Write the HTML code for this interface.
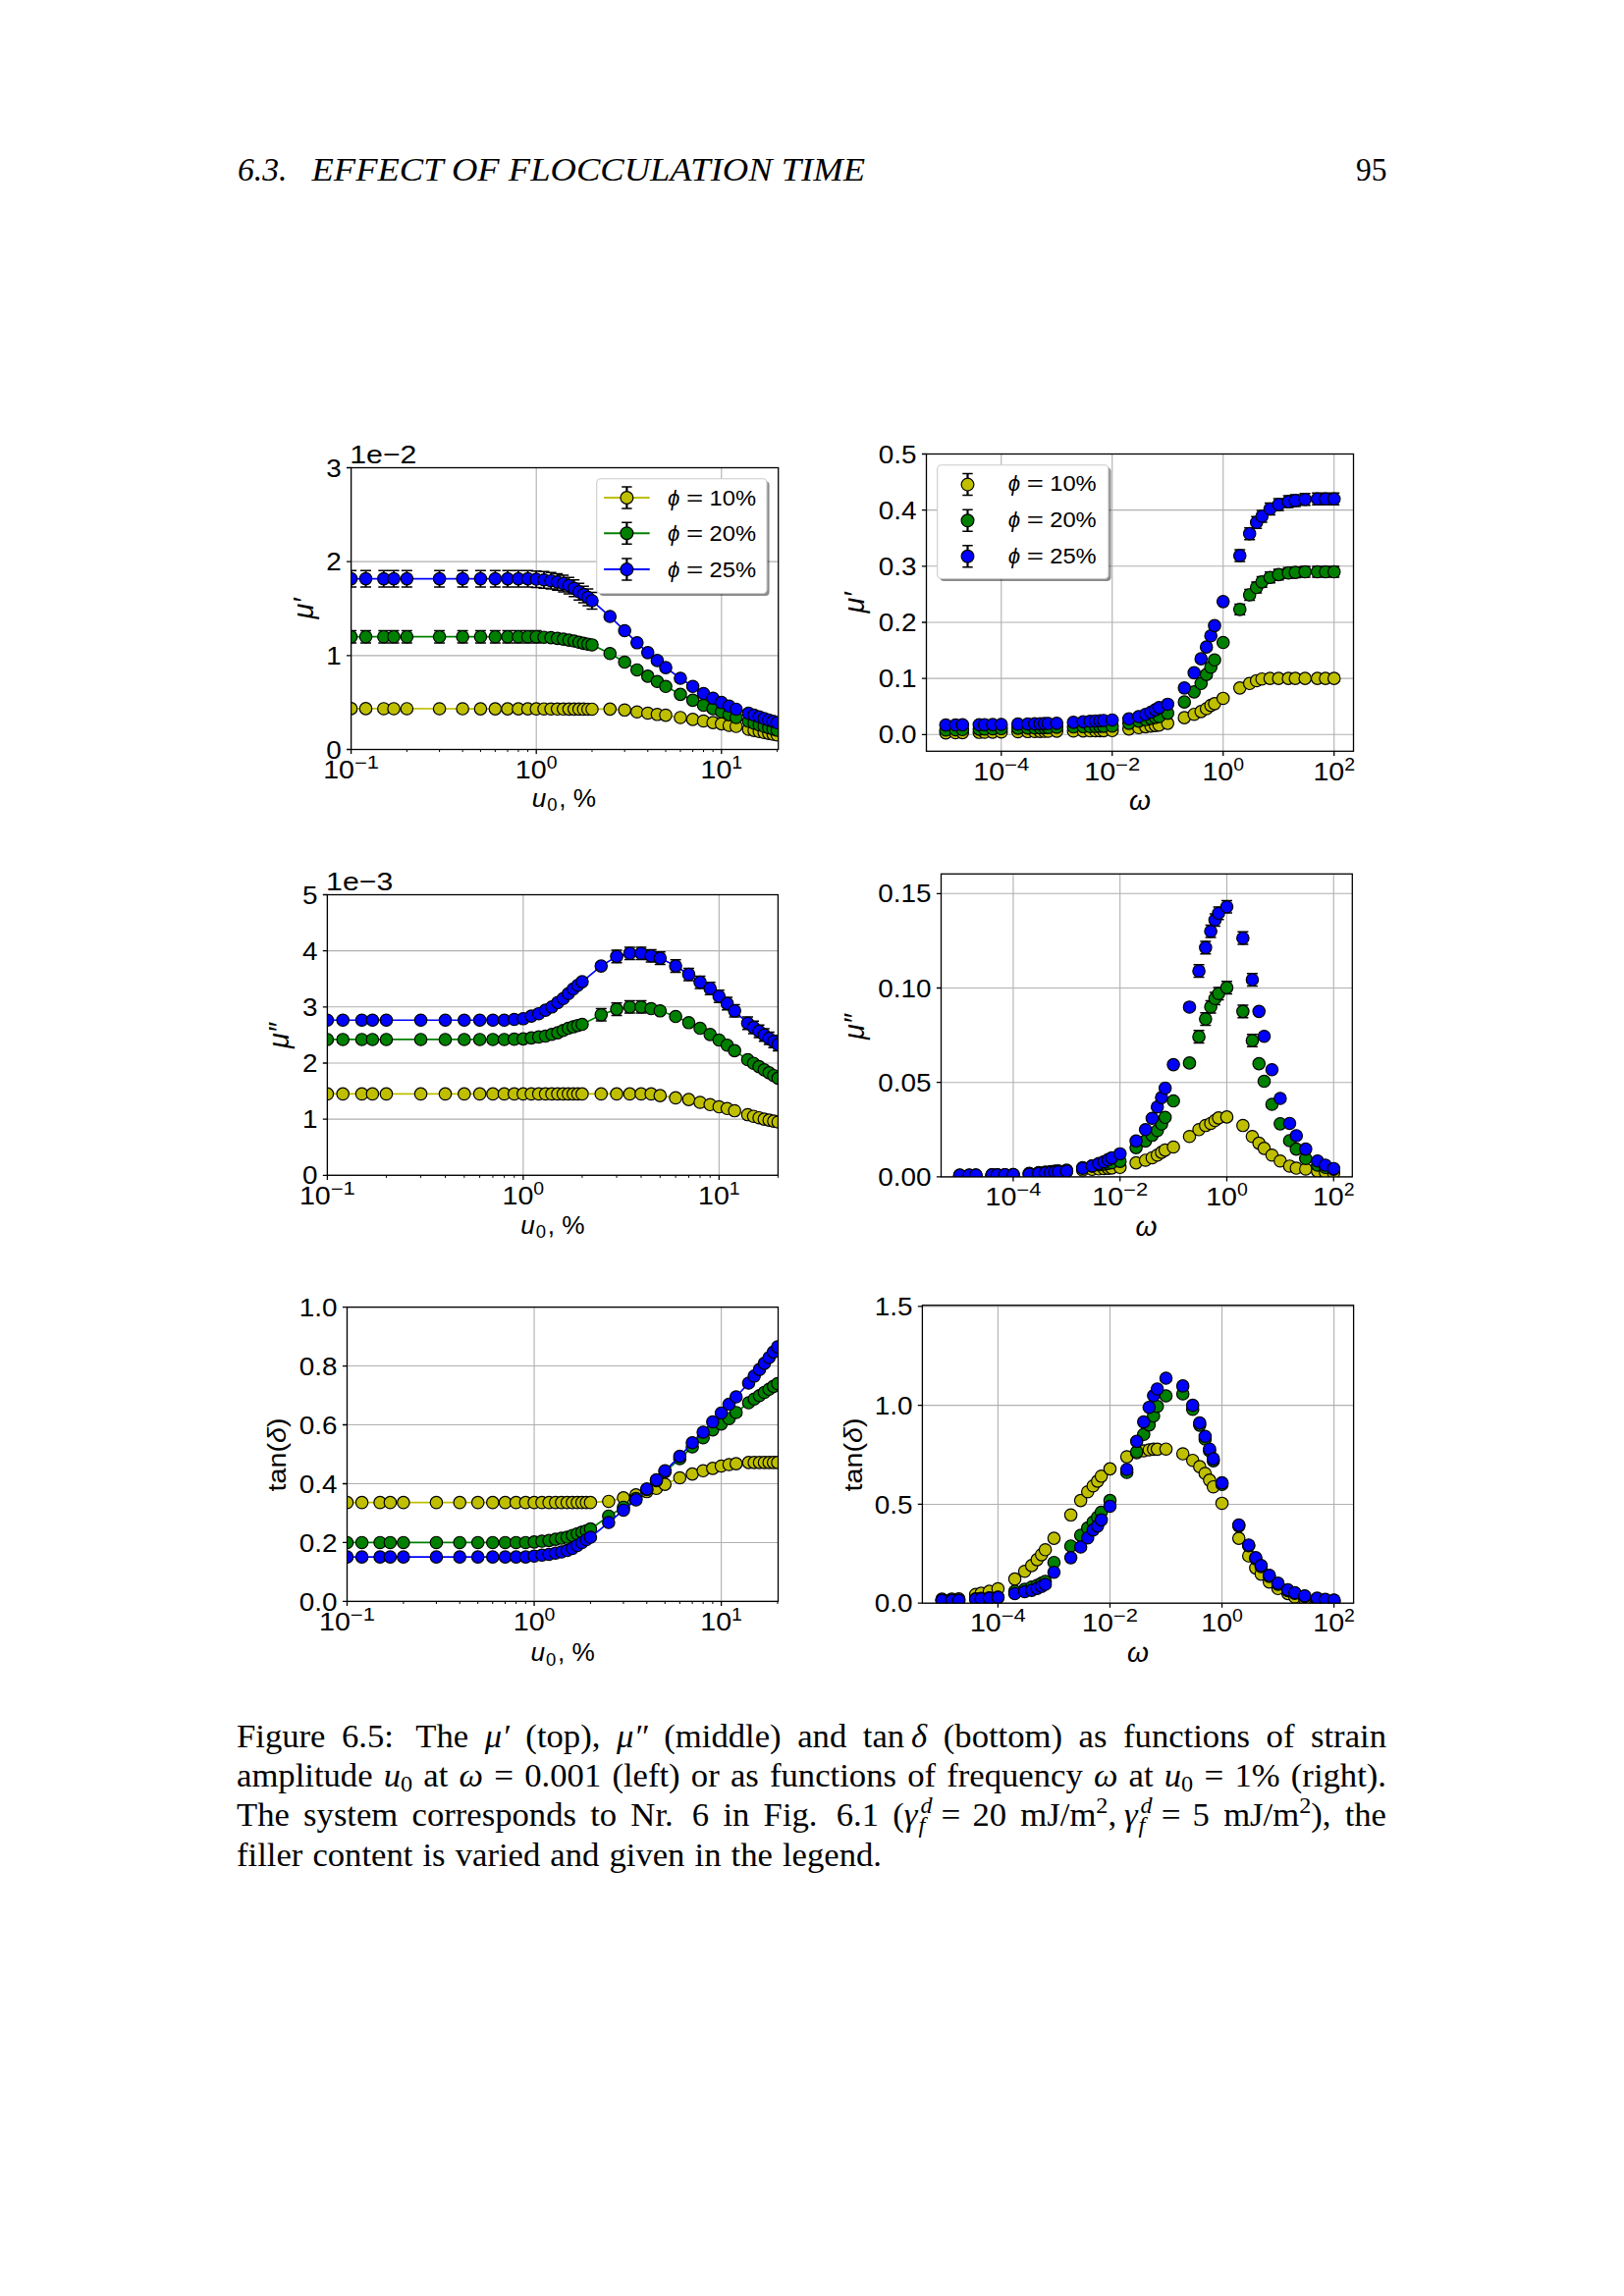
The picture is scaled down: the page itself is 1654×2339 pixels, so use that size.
<!DOCTYPE html><html><head><meta charset="utf-8"><style>html,body{margin:0;padding:0;background:#fff;}svg{display:block;}</style></head><body>
<svg width="1654" height="2339" viewBox="0 0 1654 2339">
<rect width="1654" height="2339" fill="#fff"/>
<text x="242" y="184" font-family='"Liberation Serif", serif' font-size="34" font-style="italic" textLength="50.5" lengthAdjust="spacingAndGlyphs">6.3.</text>
<text x="317.5" y="184" font-family='"Liberation Serif", serif' font-size="34" font-style="italic" textLength="563.5" lengthAdjust="spacingAndGlyphs">EFFECT OF FLOCCULATION TIME</text>
<text x="1381" y="184" font-family='"Liberation Serif", serif' font-size="34" textLength="31.5" lengthAdjust="spacingAndGlyphs">95</text>
<clipPath id="clip1"><rect x="357.6" y="476.5" width="435.1" height="287"/></clipPath>
<path d="M357.6 763.5H792.7M357.6 667.83H792.7M357.6 572.17H792.7M357.6 476.5H792.7M357.6 476.5V763.5M546.2 476.5V763.5M734.8 476.5V763.5" stroke="#b0b0b0" stroke-width="1.1" fill="none"/>
<g clip-path="url(#clip1)">
<polyline points="357.6,721.88 372.53,721.91 390.81,721.94 401.06,721.95 414.37,721.97 447.59,722.02 471.15,722.06 489.43,722.09 504.36,722.11 516.99,722.13 527.92,722.14 537.57,722.16 546.2,722.17 554.01,722.21 561.13,722.25 567.69,722.28 573.76,722.31 579.41,722.34 584.7,722.37 589.66,722.39 594.34,722.42 598.77,722.44 602.97,722.46 621.25,722.36 636.18,723.32 648.81,725.23 659.75,726.48 669.4,727.82 678.03,728.58 692.96,730.97 705.59,732.89 716.52,734.51 726.17,736.14 734.8,737.38 742.61,739.01 749.73,740.06 762.36,742.93 768.01,744.12 773.3,745.23 778.26,746.28 782.94,747.12 787.37,747.92 791.57,748.67" fill="none" stroke="#bfbf00" stroke-width="1.7"/>
<path d="M357.6 719.97V723.8M372.53 719.99V723.82M390.81 720.02V723.85M401.06 720.04V723.86M414.37 720.06V723.88M447.59 720.11V723.94M471.15 720.14V723.97M489.43 720.17V724M504.36 720.19V724.02M516.99 720.21V724.04M527.92 720.23V724.06M537.57 720.25V724.07M546.2 720.26V724.09M554.01 720.3V724.12M561.13 720.33V724.16M567.69 720.37V724.19M573.76 720.4V724.22M579.41 720.43V724.25M584.7 720.45V724.28M589.66 720.48V724.31M594.34 720.5V724.33M598.77 720.52V724.35M602.97 720.55V724.37M621.25 720.45V724.28M636.18 721.41V725.23M648.81 723.32V727.15M659.75 724.56V728.39M669.4 725.9V729.73M678.03 726.67V730.5M692.96 729.06V732.89M705.59 730.97V734.8M716.52 732.6V736.43M726.17 734.23V738.05M734.8 735.47V739.3M742.61 737.1V740.92M749.73 738.15V741.98M762.36 741.02V744.84M768.01 742.21V746.03M773.3 743.32V747.15M778.26 744.37V748.19M782.94 745.21V749.03M787.37 746V749.83M791.57 746.76V750.58" stroke="#000" stroke-width="1.8" fill="none"/>
<path d="M352.1 719.97h11M352.1 723.8h11M367.03 719.99h11M367.03 723.82h11M385.31 720.02h11M385.31 723.85h11M395.56 720.04h11M395.56 723.86h11M408.87 720.06h11M408.87 723.88h11M442.09 720.11h11M442.09 723.94h11M465.65 720.14h11M465.65 723.97h11M483.93 720.17h11M483.93 724h11M498.86 720.19h11M498.86 724.02h11M511.49 720.21h11M511.49 724.04h11M522.42 720.23h11M522.42 724.06h11M532.07 720.25h11M532.07 724.07h11M540.7 720.26h11M540.7 724.09h11M548.51 720.3h11M548.51 724.12h11M555.63 720.33h11M555.63 724.16h11M562.19 720.37h11M562.19 724.19h11M568.26 720.4h11M568.26 724.22h11M573.91 720.43h11M573.91 724.25h11M579.2 720.45h11M579.2 724.28h11M584.16 720.48h11M584.16 724.31h11M588.84 720.5h11M588.84 724.33h11M593.27 720.52h11M593.27 724.35h11M597.47 720.55h11M597.47 724.37h11M615.75 720.45h11M615.75 724.28h11M630.68 721.41h11M630.68 725.23h11M643.31 723.32h11M643.31 727.15h11M654.25 724.56h11M654.25 728.39h11M663.9 725.9h11M663.9 729.73h11M672.53 726.67h11M672.53 730.5h11M687.46 729.06h11M687.46 732.89h11M700.09 730.97h11M700.09 734.8h11M711.02 732.6h11M711.02 736.43h11M720.67 734.23h11M720.67 738.05h11M729.3 735.47h11M729.3 739.3h11M737.11 737.1h11M737.11 740.92h11M744.23 738.15h11M744.23 741.98h11M756.86 741.02h11M756.86 744.84h11M762.51 742.21h11M762.51 746.03h11M767.8 743.32h11M767.8 747.15h11M772.76 744.37h11M772.76 748.19h11M777.44 745.21h11M777.44 749.03h11M781.87 746h11M781.87 749.83h11M786.07 746.76h11M786.07 750.58h11" stroke="#000" stroke-width="1.5" fill="none"/>
<g fill="#bfbf00" stroke="#000" stroke-width="1.2">
<circle cx="357.6" cy="721.88" r="6.2"/>
<circle cx="372.53" cy="721.91" r="6.2"/>
<circle cx="390.81" cy="721.94" r="6.2"/>
<circle cx="401.06" cy="721.95" r="6.2"/>
<circle cx="414.37" cy="721.97" r="6.2"/>
<circle cx="447.59" cy="722.02" r="6.2"/>
<circle cx="471.15" cy="722.06" r="6.2"/>
<circle cx="489.43" cy="722.09" r="6.2"/>
<circle cx="504.36" cy="722.11" r="6.2"/>
<circle cx="516.99" cy="722.13" r="6.2"/>
<circle cx="527.92" cy="722.14" r="6.2"/>
<circle cx="537.57" cy="722.16" r="6.2"/>
<circle cx="546.2" cy="722.17" r="6.2"/>
<circle cx="554.01" cy="722.21" r="6.2"/>
<circle cx="561.13" cy="722.25" r="6.2"/>
<circle cx="567.69" cy="722.28" r="6.2"/>
<circle cx="573.76" cy="722.31" r="6.2"/>
<circle cx="579.41" cy="722.34" r="6.2"/>
<circle cx="584.7" cy="722.37" r="6.2"/>
<circle cx="589.66" cy="722.39" r="6.2"/>
<circle cx="594.34" cy="722.42" r="6.2"/>
<circle cx="598.77" cy="722.44" r="6.2"/>
<circle cx="602.97" cy="722.46" r="6.2"/>
<circle cx="621.25" cy="722.36" r="6.2"/>
<circle cx="636.18" cy="723.32" r="6.2"/>
<circle cx="648.81" cy="725.23" r="6.2"/>
<circle cx="659.75" cy="726.48" r="6.2"/>
<circle cx="669.4" cy="727.82" r="6.2"/>
<circle cx="678.03" cy="728.58" r="6.2"/>
<circle cx="692.96" cy="730.97" r="6.2"/>
<circle cx="705.59" cy="732.89" r="6.2"/>
<circle cx="716.52" cy="734.51" r="6.2"/>
<circle cx="726.17" cy="736.14" r="6.2"/>
<circle cx="734.8" cy="737.38" r="6.2"/>
<circle cx="742.61" cy="739.01" r="6.2"/>
<circle cx="749.73" cy="740.06" r="6.2"/>
<circle cx="762.36" cy="742.93" r="6.2"/>
<circle cx="768.01" cy="744.12" r="6.2"/>
<circle cx="773.3" cy="745.23" r="6.2"/>
<circle cx="778.26" cy="746.28" r="6.2"/>
<circle cx="782.94" cy="747.12" r="6.2"/>
<circle cx="787.37" cy="747.92" r="6.2"/>
<circle cx="791.57" cy="748.67" r="6.2"/>
</g>
<polyline points="357.6,648.7 372.53,648.7 390.81,648.7 401.06,648.7 414.37,648.7 447.59,648.7 471.15,648.7 489.43,648.7 504.36,648.7 516.99,648.7 527.92,648.7 537.57,648.7 546.2,648.7 554.01,649.2 561.13,649.66 567.69,650.4 573.76,651.09 579.41,652.08 584.7,653 589.66,654.24 594.34,655.4 598.77,656.18 602.97,656.93 621.25,665.73 636.18,674.53 648.81,682.47 659.75,688.88 669.4,694.24 678.03,699.31 692.96,707.34 705.59,713.37 716.52,718.54 726.17,721.88 734.8,725.23 742.61,728.1 749.73,730.97 762.36,734.8 768.01,736.67 773.3,738.42 778.26,740.06 782.94,741.41 787.37,742.68 791.57,743.89" fill="none" stroke="#008000" stroke-width="1.7"/>
<path d="M357.6 642.48V654.92M372.53 642.48V654.92M390.81 642.48V654.92M401.06 642.48V654.92M414.37 642.48V654.92M447.59 642.48V654.92M471.15 642.48V654.92M489.43 642.48V654.92M504.36 642.48V654.92M516.99 642.48V654.92M527.92 642.48V654.92M537.57 642.48V654.92M546.2 642.48V654.92M554.01 646.33V652.07M561.13 646.79V652.53M567.69 647.53V653.27M573.76 648.22V653.96M579.41 649.21V654.95M584.7 650.13V655.88M589.66 651.37V657.11M594.34 652.53V658.27M598.77 653.31V659.05M602.97 654.06V659.8M621.25 662.86V668.6M636.18 671.66V677.4M648.81 679.6V685.34M659.75 686.01V691.75M669.4 691.37V697.11M678.03 696.44V702.18M692.96 704.47V710.21M705.59 710.5V716.24M716.52 715.67V721.41M726.17 719.01V724.75M734.8 722.36V728.1M742.61 725.23V730.97M749.73 728.1V733.84M762.36 731.93V737.67M768.01 733.8V739.54M773.3 735.55V741.29M778.26 737.19V742.93M782.94 738.54V744.28M787.37 739.81V745.55M791.57 741.02V746.76" stroke="#000" stroke-width="1.8" fill="none"/>
<path d="M352.1 642.48h11M352.1 654.92h11M367.03 642.48h11M367.03 654.92h11M385.31 642.48h11M385.31 654.92h11M395.56 642.48h11M395.56 654.92h11M408.87 642.48h11M408.87 654.92h11M442.09 642.48h11M442.09 654.92h11M465.65 642.48h11M465.65 654.92h11M483.93 642.48h11M483.93 654.92h11M498.86 642.48h11M498.86 654.92h11M511.49 642.48h11M511.49 654.92h11M522.42 642.48h11M522.42 654.92h11M532.07 642.48h11M532.07 654.92h11M540.7 642.48h11M540.7 654.92h11M548.51 646.33h11M548.51 652.07h11M555.63 646.79h11M555.63 652.53h11M562.19 647.53h11M562.19 653.27h11M568.26 648.22h11M568.26 653.96h11M573.91 649.21h11M573.91 654.95h11M579.2 650.13h11M579.2 655.88h11M584.16 651.37h11M584.16 657.11h11M588.84 652.53h11M588.84 658.27h11M593.27 653.31h11M593.27 659.05h11M597.47 654.06h11M597.47 659.8h11M615.75 662.86h11M615.75 668.6h11M630.68 671.66h11M630.68 677.4h11M643.31 679.6h11M643.31 685.34h11M654.25 686.01h11M654.25 691.75h11M663.9 691.37h11M663.9 697.11h11M672.53 696.44h11M672.53 702.18h11M687.46 704.47h11M687.46 710.21h11M700.09 710.5h11M700.09 716.24h11M711.02 715.67h11M711.02 721.41h11M720.67 719.01h11M720.67 724.75h11M729.3 722.36h11M729.3 728.1h11M737.11 725.23h11M737.11 730.97h11M744.23 728.1h11M744.23 733.84h11M756.86 731.93h11M756.86 737.67h11M762.51 733.8h11M762.51 739.54h11M767.8 735.55h11M767.8 741.29h11M772.76 737.19h11M772.76 742.93h11M777.44 738.54h11M777.44 744.28h11M781.87 739.81h11M781.87 745.55h11M786.07 741.02h11M786.07 746.76h11" stroke="#000" stroke-width="1.5" fill="none"/>
<g fill="#008000" stroke="#000" stroke-width="1.2">
<circle cx="357.6" cy="648.7" r="6.2"/>
<circle cx="372.53" cy="648.7" r="6.2"/>
<circle cx="390.81" cy="648.7" r="6.2"/>
<circle cx="401.06" cy="648.7" r="6.2"/>
<circle cx="414.37" cy="648.7" r="6.2"/>
<circle cx="447.59" cy="648.7" r="6.2"/>
<circle cx="471.15" cy="648.7" r="6.2"/>
<circle cx="489.43" cy="648.7" r="6.2"/>
<circle cx="504.36" cy="648.7" r="6.2"/>
<circle cx="516.99" cy="648.7" r="6.2"/>
<circle cx="527.92" cy="648.7" r="6.2"/>
<circle cx="537.57" cy="648.7" r="6.2"/>
<circle cx="546.2" cy="648.7" r="6.2"/>
<circle cx="554.01" cy="649.2" r="6.2"/>
<circle cx="561.13" cy="649.66" r="6.2"/>
<circle cx="567.69" cy="650.4" r="6.2"/>
<circle cx="573.76" cy="651.09" r="6.2"/>
<circle cx="579.41" cy="652.08" r="6.2"/>
<circle cx="584.7" cy="653" r="6.2"/>
<circle cx="589.66" cy="654.24" r="6.2"/>
<circle cx="594.34" cy="655.4" r="6.2"/>
<circle cx="598.77" cy="656.18" r="6.2"/>
<circle cx="602.97" cy="656.93" r="6.2"/>
<circle cx="621.25" cy="665.73" r="6.2"/>
<circle cx="636.18" cy="674.53" r="6.2"/>
<circle cx="648.81" cy="682.47" r="6.2"/>
<circle cx="659.75" cy="688.88" r="6.2"/>
<circle cx="669.4" cy="694.24" r="6.2"/>
<circle cx="678.03" cy="699.31" r="6.2"/>
<circle cx="692.96" cy="707.34" r="6.2"/>
<circle cx="705.59" cy="713.37" r="6.2"/>
<circle cx="716.52" cy="718.54" r="6.2"/>
<circle cx="726.17" cy="721.88" r="6.2"/>
<circle cx="734.8" cy="725.23" r="6.2"/>
<circle cx="742.61" cy="728.1" r="6.2"/>
<circle cx="749.73" cy="730.97" r="6.2"/>
<circle cx="762.36" cy="734.8" r="6.2"/>
<circle cx="768.01" cy="736.67" r="6.2"/>
<circle cx="773.3" cy="738.42" r="6.2"/>
<circle cx="778.26" cy="740.06" r="6.2"/>
<circle cx="782.94" cy="741.41" r="6.2"/>
<circle cx="787.37" cy="742.68" r="6.2"/>
<circle cx="791.57" cy="743.89" r="6.2"/>
</g>
<polyline points="357.6,589.58 372.53,589.58 390.81,589.58 401.06,589.58 414.37,589.58 447.59,589.58 471.15,589.58 489.43,589.58 504.36,589.58 516.99,589.58 527.92,589.58 537.57,589.58 546.2,590.06 554.01,590.73 561.13,591.68 567.69,592.83 573.76,594.46 579.41,596.56 584.7,599.24 589.66,602.78 594.34,605.65 598.77,608.52 602.97,611.96 621.25,628.04 636.18,642.48 648.81,654.82 659.75,664.87 669.4,672.9 678.03,680.08 692.96,690.98 705.59,699.31 716.52,706.48 726.17,711.27 734.8,715.67 742.61,719.3 749.73,722.46 762.36,726.67 768.01,728.54 773.3,730.29 778.26,731.93 782.94,733.44 787.37,734.88 791.57,736.24" fill="none" stroke="#0000ff" stroke-width="1.7"/>
<path d="M357.6 581.16V598M372.53 581.16V598M390.81 581.16V598M401.06 581.16V598M414.37 581.16V598M447.59 581.16V598M471.15 581.16V598M489.43 581.16V598M504.36 581.16V598M516.99 581.16V598M527.92 581.16V598M537.57 581.16V598M546.2 581.64V598.48M554.01 582.31V599.14M561.13 583.26V600.1M567.69 584.41V601.25M573.76 586.04V602.88M579.41 588.14V604.98M584.7 590.82V607.66M589.66 594.36V611.2M594.34 597.23V614.07M598.77 600.1V616.94M602.97 603.55V620.38M621.25 626.12V629.95M636.18 640.57V644.39M648.81 652.91V656.74M659.75 662.95V666.78M669.4 670.99V674.82M678.03 678.17V681.99M692.96 689.07V692.9M705.59 697.39V701.22M716.52 704.57V708.4M726.17 709.35V713.18M734.8 713.75V717.58M742.61 717.39V721.22M749.73 720.55V724.37M762.36 724.75V728.58M768.01 726.62V730.45M773.3 728.37V732.2M778.26 730.02V733.84M782.94 731.53V735.36M787.37 732.96V736.79M791.57 734.32V738.15" stroke="#000" stroke-width="1.8" fill="none"/>
<path d="M352.1 581.16h11M352.1 598h11M367.03 581.16h11M367.03 598h11M385.31 581.16h11M385.31 598h11M395.56 581.16h11M395.56 598h11M408.87 581.16h11M408.87 598h11M442.09 581.16h11M442.09 598h11M465.65 581.16h11M465.65 598h11M483.93 581.16h11M483.93 598h11M498.86 581.16h11M498.86 598h11M511.49 581.16h11M511.49 598h11M522.42 581.16h11M522.42 598h11M532.07 581.16h11M532.07 598h11M540.7 581.64h11M540.7 598.48h11M548.51 582.31h11M548.51 599.14h11M555.63 583.26h11M555.63 600.1h11M562.19 584.41h11M562.19 601.25h11M568.26 586.04h11M568.26 602.88h11M573.91 588.14h11M573.91 604.98h11M579.2 590.82h11M579.2 607.66h11M584.16 594.36h11M584.16 611.2h11M588.84 597.23h11M588.84 614.07h11M593.27 600.1h11M593.27 616.94h11M597.47 603.55h11M597.47 620.38h11M615.75 626.12h11M615.75 629.95h11M630.68 640.57h11M630.68 644.39h11M643.31 652.91h11M643.31 656.74h11M654.25 662.95h11M654.25 666.78h11M663.9 670.99h11M663.9 674.82h11M672.53 678.17h11M672.53 681.99h11M687.46 689.07h11M687.46 692.9h11M700.09 697.39h11M700.09 701.22h11M711.02 704.57h11M711.02 708.4h11M720.67 709.35h11M720.67 713.18h11M729.3 713.75h11M729.3 717.58h11M737.11 717.39h11M737.11 721.22h11M744.23 720.55h11M744.23 724.37h11M756.86 724.75h11M756.86 728.58h11M762.51 726.62h11M762.51 730.45h11M767.8 728.37h11M767.8 732.2h11M772.76 730.02h11M772.76 733.84h11M777.44 731.53h11M777.44 735.36h11M781.87 732.96h11M781.87 736.79h11M786.07 734.32h11M786.07 738.15h11" stroke="#000" stroke-width="1.5" fill="none"/>
<g fill="#0000ff" stroke="#000" stroke-width="1.2">
<circle cx="357.6" cy="589.58" r="6.2"/>
<circle cx="372.53" cy="589.58" r="6.2"/>
<circle cx="390.81" cy="589.58" r="6.2"/>
<circle cx="401.06" cy="589.58" r="6.2"/>
<circle cx="414.37" cy="589.58" r="6.2"/>
<circle cx="447.59" cy="589.58" r="6.2"/>
<circle cx="471.15" cy="589.58" r="6.2"/>
<circle cx="489.43" cy="589.58" r="6.2"/>
<circle cx="504.36" cy="589.58" r="6.2"/>
<circle cx="516.99" cy="589.58" r="6.2"/>
<circle cx="527.92" cy="589.58" r="6.2"/>
<circle cx="537.57" cy="589.58" r="6.2"/>
<circle cx="546.2" cy="590.06" r="6.2"/>
<circle cx="554.01" cy="590.73" r="6.2"/>
<circle cx="561.13" cy="591.68" r="6.2"/>
<circle cx="567.69" cy="592.83" r="6.2"/>
<circle cx="573.76" cy="594.46" r="6.2"/>
<circle cx="579.41" cy="596.56" r="6.2"/>
<circle cx="584.7" cy="599.24" r="6.2"/>
<circle cx="589.66" cy="602.78" r="6.2"/>
<circle cx="594.34" cy="605.65" r="6.2"/>
<circle cx="598.77" cy="608.52" r="6.2"/>
<circle cx="602.97" cy="611.96" r="6.2"/>
<circle cx="621.25" cy="628.04" r="6.2"/>
<circle cx="636.18" cy="642.48" r="6.2"/>
<circle cx="648.81" cy="654.82" r="6.2"/>
<circle cx="659.75" cy="664.87" r="6.2"/>
<circle cx="669.4" cy="672.9" r="6.2"/>
<circle cx="678.03" cy="680.08" r="6.2"/>
<circle cx="692.96" cy="690.98" r="6.2"/>
<circle cx="705.59" cy="699.31" r="6.2"/>
<circle cx="716.52" cy="706.48" r="6.2"/>
<circle cx="726.17" cy="711.27" r="6.2"/>
<circle cx="734.8" cy="715.67" r="6.2"/>
<circle cx="742.61" cy="719.3" r="6.2"/>
<circle cx="749.73" cy="722.46" r="6.2"/>
<circle cx="762.36" cy="726.67" r="6.2"/>
<circle cx="768.01" cy="728.54" r="6.2"/>
<circle cx="773.3" cy="730.29" r="6.2"/>
<circle cx="778.26" cy="731.93" r="6.2"/>
<circle cx="782.94" cy="733.44" r="6.2"/>
<circle cx="787.37" cy="734.88" r="6.2"/>
<circle cx="791.57" cy="736.24" r="6.2"/>
</g>
</g>
<rect x="357.6" y="476.5" width="435.1" height="287" fill="none" stroke="#000" stroke-width="1.3"/>
<path d="M357.6 763.5h-4.6M357.6 667.83h-4.6M357.6 572.17h-4.6M357.6 476.5h-4.6M357.6 763.5v4.6M546.2 763.5v4.6M734.8 763.5v4.6" stroke="#000" stroke-width="1.3" fill="none"/>
<path d="M414.37 763.5v2.6M447.59 763.5v2.6M471.15 763.5v2.6M489.43 763.5v2.6M504.36 763.5v2.6M516.99 763.5v2.6M527.92 763.5v2.6M537.57 763.5v2.6M602.97 763.5v2.6M636.18 763.5v2.6M659.75 763.5v2.6M678.03 763.5v2.6M692.96 763.5v2.6M705.59 763.5v2.6M716.52 763.5v2.6M726.17 763.5v2.6M791.57 763.5v2.6" stroke="#000" stroke-width="1" fill="none"/>
<g font-family='"Liberation Sans", sans-serif' fill="#000">
<text x="347.7" y="772.65" font-size="26.2" text-anchor="end" textLength="15.51" lengthAdjust="spacingAndGlyphs">0</text>
<text x="347.7" y="676.98" font-size="26.2" text-anchor="end" textLength="15.51" lengthAdjust="spacingAndGlyphs">1</text>
<text x="347.7" y="581.32" font-size="26.2" text-anchor="end" textLength="15.51" lengthAdjust="spacingAndGlyphs">2</text>
<text x="347.7" y="485.65" font-size="26.2" text-anchor="end" textLength="15.51" lengthAdjust="spacingAndGlyphs">3</text>
<text x="329.16" y="792.7" font-size="26.2" text-anchor="start" textLength="31.81" lengthAdjust="spacingAndGlyphs">10</text>
<text x="360.98" y="782.7" font-size="17.82" text-anchor="start" textLength="25.06" lengthAdjust="spacingAndGlyphs">−1</text>
<text x="524.89" y="792.7" font-size="26.2" text-anchor="start" textLength="31.81" lengthAdjust="spacingAndGlyphs">10</text>
<text x="556.7" y="782.7" font-size="17.82" text-anchor="start" textLength="10.82" lengthAdjust="spacingAndGlyphs">0</text>
<text x="713.49" y="792.7" font-size="26.2" text-anchor="start" textLength="31.81" lengthAdjust="spacingAndGlyphs">10</text>
<text x="745.3" y="782.7" font-size="17.82" text-anchor="start" textLength="10.82" lengthAdjust="spacingAndGlyphs">1</text>
<text x="356.3" y="472.2" font-size="26.2" text-anchor="start" textLength="68.14" lengthAdjust="spacingAndGlyphs">1e−2</text>
</g>
<text transform="translate(318.5 620) rotate(-90)" font-family='"Liberation Sans", sans-serif' font-size="28.6" font-style="italic" text-anchor="middle">μ′</text>
<g font-family='"Liberation Sans", sans-serif' fill="#000"><text x="541.7" y="821.5" font-size="26.2" font-style="italic">u</text><text x="557.2" y="826" font-size="18.5">0</text><text x="569.2" y="821.5" font-size="26.2">, %</text></g>
<g>
<rect x="610.3" y="490.3" width="173.3" height="116.8" rx="4" fill="#000" fill-opacity="0.45"/>
<rect x="607.7" y="487.7" width="173.3" height="116.8" rx="4" fill="#fff" stroke="#cccccc" stroke-width="1.1"/>
<path d="M615.1 507H661.7" stroke="#bfbf00" stroke-width="2"/>
<path d="M638.4 496V518" stroke="#000" stroke-width="2.2"/>
<path d="M633.2 496h10.4M633.2 518h10.4" stroke="#000" stroke-width="1.5"/>
<circle cx="638.4" cy="507" r="6.4" fill="#bfbf00" stroke="#000" stroke-width="1.2"/>
<text x="680" y="515" font-family='"Liberation Sans", sans-serif' font-size="22.2" font-style="italic">ϕ</text>
<text x="707.6" y="515" font-family='"Liberation Sans", sans-serif' font-size="21.2" text-anchor="middle" textLength="17.2" lengthAdjust="spacingAndGlyphs">=</text>
<text x="770" y="515" font-family='"Liberation Sans", sans-serif' font-size="21.2" text-anchor="end" textLength="47.5" lengthAdjust="spacingAndGlyphs">10%</text>
<path d="M615.1 543.2H661.7" stroke="#008000" stroke-width="2"/>
<path d="M638.4 532.2V554.2" stroke="#000" stroke-width="2.2"/>
<path d="M633.2 532.2h10.4M633.2 554.2h10.4" stroke="#000" stroke-width="1.5"/>
<circle cx="638.4" cy="543.2" r="6.4" fill="#008000" stroke="#000" stroke-width="1.2"/>
<text x="680" y="551.2" font-family='"Liberation Sans", sans-serif' font-size="22.2" font-style="italic">ϕ</text>
<text x="707.6" y="551.2" font-family='"Liberation Sans", sans-serif' font-size="21.2" text-anchor="middle" textLength="17.2" lengthAdjust="spacingAndGlyphs">=</text>
<text x="770" y="551.2" font-family='"Liberation Sans", sans-serif' font-size="21.2" text-anchor="end" textLength="47.5" lengthAdjust="spacingAndGlyphs">20%</text>
<path d="M615.1 580.1H661.7" stroke="#0000ff" stroke-width="2"/>
<path d="M638.4 569.1V591.1" stroke="#000" stroke-width="2.2"/>
<path d="M633.2 569.1h10.4M633.2 591.1h10.4" stroke="#000" stroke-width="1.5"/>
<circle cx="638.4" cy="580.1" r="6.4" fill="#0000ff" stroke="#000" stroke-width="1.2"/>
<text x="680" y="588.1" font-family='"Liberation Sans", sans-serif' font-size="22.2" font-style="italic">ϕ</text>
<text x="707.6" y="588.1" font-family='"Liberation Sans", sans-serif' font-size="21.2" text-anchor="middle" textLength="17.2" lengthAdjust="spacingAndGlyphs">=</text>
<text x="770" y="588.1" font-family='"Liberation Sans", sans-serif' font-size="21.2" text-anchor="end" textLength="47.5" lengthAdjust="spacingAndGlyphs">25%</text>
</g>
<clipPath id="clip2"><rect x="943.5" y="462.5" width="435" height="302.8"/></clipPath>
<path d="M943.5 748.3H1378.5M943.5 691.14H1378.5M943.5 633.98H1378.5M943.5 576.82H1378.5M943.5 519.66H1378.5M943.5 462.5H1378.5M1019.77 462.5V765.3M1132.75 462.5V765.3M1245.74 462.5V765.3M1358.73 462.5V765.3" stroke="#b0b0b0" stroke-width="1.1" fill="none"/>
<g clip-path="url(#clip2)">
<path d="M963.27 744.3V748.87M973.22 744.15V748.72M980.28 744.04V748.61M997.29 743.78V748.36M1002.76 743.7V748.27M1011.02 743.57V748.15M1019.77 743.44V748.01M1036.77 743.18V747.76M1046.72 743.03V747.61M1053.78 742.93V747.5M1059.25 742.84V747.42M1063.73 742.77V747.35M1067.51 742.72V747.29M1076.26 742.58V747.16M1093.27 742.41V746.99M1103.21 742.31V746.88M1110.27 742.24V746.81M1115.75 742.19V746.76M1120.22 742.14V746.71M1124 742.1V746.67M1132.75 742.01V746.59M1149.76 740.3V744.87M1159.71 739V743.58M1166.77 738.08V742.66M1172.24 737.37V741.94M1176.71 736.79V741.36M1180.5 736.3V740.87M1189.25 734.58V739.15M1206.25 728.87V733.44M1216.2 725.44V730.01M1223.26 722.58V727.15M1228.73 719.72V724.29M1233.21 716.29V720.86M1236.99 714.58V719.15M1245.74 709.15V713.72M1262.75 698V703.72M1272.69 693.43V699.14M1279.75 690.57V696.28M1285.23 688.85V694.57M1293.48 688.28V694M1302.23 688.28V694M1312.18 688.28V694M1319.24 688.28V694M1329.19 688.28V694M1341.72 688.28V694M1349.98 688.28V694M1358.73 688.28V694" stroke="#000" stroke-width="1.8" fill="none"/>
<path d="M957.77 744.3h11M957.77 748.87h11M967.72 744.15h11M967.72 748.72h11M974.78 744.04h11M974.78 748.61h11M991.79 743.78h11M991.79 748.36h11M997.26 743.7h11M997.26 748.27h11M1005.52 743.57h11M1005.52 748.15h11M1014.27 743.44h11M1014.27 748.01h11M1031.27 743.18h11M1031.27 747.76h11M1041.22 743.03h11M1041.22 747.61h11M1048.28 742.93h11M1048.28 747.5h11M1053.75 742.84h11M1053.75 747.42h11M1058.23 742.77h11M1058.23 747.35h11M1062.01 742.72h11M1062.01 747.29h11M1070.76 742.58h11M1070.76 747.16h11M1087.77 742.41h11M1087.77 746.99h11M1097.71 742.31h11M1097.71 746.88h11M1104.77 742.24h11M1104.77 746.81h11M1110.25 742.19h11M1110.25 746.76h11M1114.72 742.14h11M1114.72 746.71h11M1118.5 742.1h11M1118.5 746.67h11M1127.25 742.01h11M1127.25 746.59h11M1144.26 740.3h11M1144.26 744.87h11M1154.21 739h11M1154.21 743.58h11M1161.27 738.08h11M1161.27 742.66h11M1166.74 737.37h11M1166.74 741.94h11M1171.21 736.79h11M1171.21 741.36h11M1175 736.3h11M1175 740.87h11M1183.75 734.58h11M1183.75 739.15h11M1200.75 728.87h11M1200.75 733.44h11M1210.7 725.44h11M1210.7 730.01h11M1217.76 722.58h11M1217.76 727.15h11M1223.23 719.72h11M1223.23 724.29h11M1227.71 716.29h11M1227.71 720.86h11M1231.49 714.58h11M1231.49 719.15h11M1240.24 709.15h11M1240.24 713.72h11M1257.25 698h11M1257.25 703.72h11M1267.19 693.43h11M1267.19 699.14h11M1274.25 690.57h11M1274.25 696.28h11M1279.73 688.85h11M1279.73 694.57h11M1287.98 688.28h11M1287.98 694h11M1296.73 688.28h11M1296.73 694h11M1306.68 688.28h11M1306.68 694h11M1313.74 688.28h11M1313.74 694h11M1323.69 688.28h11M1323.69 694h11M1336.22 688.28h11M1336.22 694h11M1344.48 688.28h11M1344.48 694h11M1353.23 688.28h11M1353.23 694h11" stroke="#000" stroke-width="1.5" fill="none"/>
<g fill="#bfbf00" stroke="#000" stroke-width="1.2">
<circle cx="963.27" cy="746.59" r="6.2"/>
<circle cx="973.22" cy="746.43" r="6.2"/>
<circle cx="980.28" cy="746.33" r="6.2"/>
<circle cx="997.29" cy="746.07" r="6.2"/>
<circle cx="1002.76" cy="745.99" r="6.2"/>
<circle cx="1011.02" cy="745.86" r="6.2"/>
<circle cx="1019.77" cy="745.73" r="6.2"/>
<circle cx="1036.77" cy="745.47" r="6.2"/>
<circle cx="1046.72" cy="745.32" r="6.2"/>
<circle cx="1053.78" cy="745.21" r="6.2"/>
<circle cx="1059.25" cy="745.13" r="6.2"/>
<circle cx="1063.73" cy="745.06" r="6.2"/>
<circle cx="1067.51" cy="745" r="6.2"/>
<circle cx="1076.26" cy="744.87" r="6.2"/>
<circle cx="1093.27" cy="744.7" r="6.2"/>
<circle cx="1103.21" cy="744.6" r="6.2"/>
<circle cx="1110.27" cy="744.53" r="6.2"/>
<circle cx="1115.75" cy="744.47" r="6.2"/>
<circle cx="1120.22" cy="744.43" r="6.2"/>
<circle cx="1124" cy="744.39" r="6.2"/>
<circle cx="1132.75" cy="744.3" r="6.2"/>
<circle cx="1149.76" cy="742.58" r="6.2"/>
<circle cx="1159.71" cy="741.29" r="6.2"/>
<circle cx="1166.77" cy="740.37" r="6.2"/>
<circle cx="1172.24" cy="739.66" r="6.2"/>
<circle cx="1176.71" cy="739.08" r="6.2"/>
<circle cx="1180.5" cy="738.58" r="6.2"/>
<circle cx="1189.25" cy="736.87" r="6.2"/>
<circle cx="1206.25" cy="731.15" r="6.2"/>
<circle cx="1216.2" cy="727.72" r="6.2"/>
<circle cx="1223.26" cy="724.86" r="6.2"/>
<circle cx="1228.73" cy="722.01" r="6.2"/>
<circle cx="1233.21" cy="718.58" r="6.2"/>
<circle cx="1236.99" cy="716.86" r="6.2"/>
<circle cx="1245.74" cy="711.43" r="6.2"/>
<circle cx="1262.75" cy="700.86" r="6.2"/>
<circle cx="1272.69" cy="696.28" r="6.2"/>
<circle cx="1279.75" cy="693.43" r="6.2"/>
<circle cx="1285.23" cy="691.71" r="6.2"/>
<circle cx="1293.48" cy="691.14" r="6.2"/>
<circle cx="1302.23" cy="691.14" r="6.2"/>
<circle cx="1312.18" cy="691.14" r="6.2"/>
<circle cx="1319.24" cy="691.14" r="6.2"/>
<circle cx="1329.19" cy="691.14" r="6.2"/>
<circle cx="1341.72" cy="691.14" r="6.2"/>
<circle cx="1349.98" cy="691.14" r="6.2"/>
<circle cx="1358.73" cy="691.14" r="6.2"/>
</g>
<path d="M963.27 741.44V746.01M973.22 741.19V745.76M980.28 741.01V745.58M997.29 740.58V745.15M1002.76 740.44V745.02M1011.02 740.23V744.81M1019.77 740.01V744.59M1036.77 739.58V744.16M1046.72 739.33V743.9M1053.78 739.15V743.72M1059.25 739.01V743.59M1063.73 738.9V743.47M1067.51 738.8V743.38M1076.26 738.58V743.16M1093.27 738.24V742.81M1103.21 738.04V742.61M1110.27 737.9V742.47M1115.75 737.78V742.36M1120.22 737.69V742.27M1124 737.62V742.19M1132.75 737.44V742.01M1149.76 734.58V739.15M1159.71 732.36V736.93M1166.77 730.79V735.36M1172.24 729.57V734.14M1176.71 728.57V733.14M1180.5 727.72V732.3M1189.25 724.29V728.87M1206.25 712.86V717.43M1216.2 702.57V707.15M1223.26 694V698.57M1228.73 684.85V689.43M1233.21 677.42V681.99M1236.99 669.99V674.56M1245.74 652.27V656.84M1262.75 615.4V626.26M1272.69 600.54V611.4M1279.75 593.11V603.97M1285.23 587.39V598.26M1293.48 582.82V593.68M1302.23 579.96V590.82M1312.18 578.25V589.11M1319.24 577.68V588.54M1329.19 577.11V587.97M1341.72 577.11V587.97M1349.98 577.11V587.97M1358.73 577.11V587.97" stroke="#000" stroke-width="1.8" fill="none"/>
<path d="M957.77 741.44h11M957.77 746.01h11M967.72 741.19h11M967.72 745.76h11M974.78 741.01h11M974.78 745.58h11M991.79 740.58h11M991.79 745.15h11M997.26 740.44h11M997.26 745.02h11M1005.52 740.23h11M1005.52 744.81h11M1014.27 740.01h11M1014.27 744.59h11M1031.27 739.58h11M1031.27 744.16h11M1041.22 739.33h11M1041.22 743.9h11M1048.28 739.15h11M1048.28 743.72h11M1053.75 739.01h11M1053.75 743.59h11M1058.23 738.9h11M1058.23 743.47h11M1062.01 738.8h11M1062.01 743.38h11M1070.76 738.58h11M1070.76 743.16h11M1087.77 738.24h11M1087.77 742.81h11M1097.71 738.04h11M1097.71 742.61h11M1104.77 737.9h11M1104.77 742.47h11M1110.25 737.78h11M1110.25 742.36h11M1114.72 737.69h11M1114.72 742.27h11M1118.5 737.62h11M1118.5 742.19h11M1127.25 737.44h11M1127.25 742.01h11M1144.26 734.58h11M1144.26 739.15h11M1154.21 732.36h11M1154.21 736.93h11M1161.27 730.79h11M1161.27 735.36h11M1166.74 729.57h11M1166.74 734.14h11M1171.21 728.57h11M1171.21 733.14h11M1175 727.72h11M1175 732.3h11M1183.75 724.29h11M1183.75 728.87h11M1200.75 712.86h11M1200.75 717.43h11M1210.7 702.57h11M1210.7 707.15h11M1217.76 694h11M1217.76 698.57h11M1223.23 684.85h11M1223.23 689.43h11M1227.71 677.42h11M1227.71 681.99h11M1231.49 669.99h11M1231.49 674.56h11M1240.24 652.27h11M1240.24 656.84h11M1257.25 615.4h11M1257.25 626.26h11M1267.19 600.54h11M1267.19 611.4h11M1274.25 593.11h11M1274.25 603.97h11M1279.73 587.39h11M1279.73 598.26h11M1287.98 582.82h11M1287.98 593.68h11M1296.73 579.96h11M1296.73 590.82h11M1306.68 578.25h11M1306.68 589.11h11M1313.74 577.68h11M1313.74 588.54h11M1323.69 577.11h11M1323.69 587.97h11M1336.22 577.11h11M1336.22 587.97h11M1344.48 577.11h11M1344.48 587.97h11M1353.23 577.11h11M1353.23 587.97h11" stroke="#000" stroke-width="1.5" fill="none"/>
<g fill="#008000" stroke="#000" stroke-width="1.2">
<circle cx="963.27" cy="743.73" r="6.2"/>
<circle cx="973.22" cy="743.48" r="6.2"/>
<circle cx="980.28" cy="743.3" r="6.2"/>
<circle cx="997.29" cy="742.87" r="6.2"/>
<circle cx="1002.76" cy="742.73" r="6.2"/>
<circle cx="1011.02" cy="742.52" r="6.2"/>
<circle cx="1019.77" cy="742.3" r="6.2"/>
<circle cx="1036.77" cy="741.87" r="6.2"/>
<circle cx="1046.72" cy="741.62" r="6.2"/>
<circle cx="1053.78" cy="741.44" r="6.2"/>
<circle cx="1059.25" cy="741.3" r="6.2"/>
<circle cx="1063.73" cy="741.19" r="6.2"/>
<circle cx="1067.51" cy="741.09" r="6.2"/>
<circle cx="1076.26" cy="740.87" r="6.2"/>
<circle cx="1093.27" cy="740.53" r="6.2"/>
<circle cx="1103.21" cy="740.32" r="6.2"/>
<circle cx="1110.27" cy="740.18" r="6.2"/>
<circle cx="1115.75" cy="740.07" r="6.2"/>
<circle cx="1120.22" cy="739.98" r="6.2"/>
<circle cx="1124" cy="739.9" r="6.2"/>
<circle cx="1132.75" cy="739.73" r="6.2"/>
<circle cx="1149.76" cy="736.87" r="6.2"/>
<circle cx="1159.71" cy="734.65" r="6.2"/>
<circle cx="1166.77" cy="733.07" r="6.2"/>
<circle cx="1172.24" cy="731.85" r="6.2"/>
<circle cx="1176.71" cy="730.85" r="6.2"/>
<circle cx="1180.5" cy="730.01" r="6.2"/>
<circle cx="1189.25" cy="726.58" r="6.2"/>
<circle cx="1206.25" cy="715.15" r="6.2"/>
<circle cx="1216.2" cy="704.86" r="6.2"/>
<circle cx="1223.26" cy="696.28" r="6.2"/>
<circle cx="1228.73" cy="687.14" r="6.2"/>
<circle cx="1233.21" cy="679.71" r="6.2"/>
<circle cx="1236.99" cy="672.28" r="6.2"/>
<circle cx="1245.74" cy="654.56" r="6.2"/>
<circle cx="1262.75" cy="620.83" r="6.2"/>
<circle cx="1272.69" cy="605.97" r="6.2"/>
<circle cx="1279.75" cy="598.54" r="6.2"/>
<circle cx="1285.23" cy="592.83" r="6.2"/>
<circle cx="1293.48" cy="588.25" r="6.2"/>
<circle cx="1302.23" cy="585.39" r="6.2"/>
<circle cx="1312.18" cy="583.68" r="6.2"/>
<circle cx="1319.24" cy="583.11" r="6.2"/>
<circle cx="1329.19" cy="582.54" r="6.2"/>
<circle cx="1341.72" cy="582.54" r="6.2"/>
<circle cx="1349.98" cy="582.54" r="6.2"/>
<circle cx="1358.73" cy="582.54" r="6.2"/>
</g>
<path d="M963.27 736.3V740.87M973.22 736.2V740.77M980.28 736.12V740.7M997.29 735.95V740.53M1002.76 735.9V740.47M1011.02 735.81V740.39M1019.77 735.73V740.3M1036.77 735.38V739.95M1046.72 735.18V739.75M1053.78 735.04V739.61M1059.25 734.93V739.5M1063.73 734.84V739.41M1067.51 734.76V739.33M1076.26 734.58V739.15M1093.27 733.55V738.12M1103.21 732.95V737.52M1110.27 732.52V737.09M1115.75 732.18V736.76M1120.22 731.91V736.49M1124 731.68V736.26M1132.75 731.15V735.73M1149.76 730.01V734.58M1159.71 727.72V732.3M1166.77 725.44V730.01M1172.24 723.15V727.72M1176.71 720.86V725.44M1180.5 718.58V723.15M1189.25 715.15V719.72M1206.25 698.57V703.14M1216.2 683.14V687.71M1223.26 668.85V673.42M1228.73 656.84V661.42M1233.21 645.41V649.99M1236.99 635.12V639.7M1245.74 610.54V615.12M1262.75 559.96V571.96M1272.69 537.67V549.67M1279.75 526.23V538.24M1285.23 519.95V531.95M1293.48 512.52V524.52M1302.23 507.94V519.95M1312.18 505.08V517.09M1319.24 503.94V515.94M1329.19 502.8V514.8M1341.72 502.23V514.23M1349.98 502.23V514.23M1358.73 502.23V514.23" stroke="#000" stroke-width="1.8" fill="none"/>
<path d="M957.77 736.3h11M957.77 740.87h11M967.72 736.2h11M967.72 740.77h11M974.78 736.12h11M974.78 740.7h11M991.79 735.95h11M991.79 740.53h11M997.26 735.9h11M997.26 740.47h11M1005.52 735.81h11M1005.52 740.39h11M1014.27 735.73h11M1014.27 740.3h11M1031.27 735.38h11M1031.27 739.95h11M1041.22 735.18h11M1041.22 739.75h11M1048.28 735.04h11M1048.28 739.61h11M1053.75 734.93h11M1053.75 739.5h11M1058.23 734.84h11M1058.23 739.41h11M1062.01 734.76h11M1062.01 739.33h11M1070.76 734.58h11M1070.76 739.15h11M1087.77 733.55h11M1087.77 738.12h11M1097.71 732.95h11M1097.71 737.52h11M1104.77 732.52h11M1104.77 737.09h11M1110.25 732.18h11M1110.25 736.76h11M1114.72 731.91h11M1114.72 736.49h11M1118.5 731.68h11M1118.5 736.26h11M1127.25 731.15h11M1127.25 735.73h11M1144.26 730.01h11M1144.26 734.58h11M1154.21 727.72h11M1154.21 732.3h11M1161.27 725.44h11M1161.27 730.01h11M1166.74 723.15h11M1166.74 727.72h11M1171.21 720.86h11M1171.21 725.44h11M1175 718.58h11M1175 723.15h11M1183.75 715.15h11M1183.75 719.72h11M1200.75 698.57h11M1200.75 703.14h11M1210.7 683.14h11M1210.7 687.71h11M1217.76 668.85h11M1217.76 673.42h11M1223.23 656.84h11M1223.23 661.42h11M1227.71 645.41h11M1227.71 649.99h11M1231.49 635.12h11M1231.49 639.7h11M1240.24 610.54h11M1240.24 615.12h11M1257.25 559.96h11M1257.25 571.96h11M1267.19 537.67h11M1267.19 549.67h11M1274.25 526.23h11M1274.25 538.24h11M1279.73 519.95h11M1279.73 531.95h11M1287.98 512.52h11M1287.98 524.52h11M1296.73 507.94h11M1296.73 519.95h11M1306.68 505.08h11M1306.68 517.09h11M1313.74 503.94h11M1313.74 515.94h11M1323.69 502.8h11M1323.69 514.8h11M1336.22 502.23h11M1336.22 514.23h11M1344.48 502.23h11M1344.48 514.23h11M1353.23 502.23h11M1353.23 514.23h11" stroke="#000" stroke-width="1.5" fill="none"/>
<g fill="#0000ff" stroke="#000" stroke-width="1.2">
<circle cx="963.27" cy="738.58" r="6.2"/>
<circle cx="973.22" cy="738.48" r="6.2"/>
<circle cx="980.28" cy="738.41" r="6.2"/>
<circle cx="997.29" cy="738.24" r="6.2"/>
<circle cx="1002.76" cy="738.18" r="6.2"/>
<circle cx="1011.02" cy="738.1" r="6.2"/>
<circle cx="1019.77" cy="738.01" r="6.2"/>
<circle cx="1036.77" cy="737.67" r="6.2"/>
<circle cx="1046.72" cy="737.47" r="6.2"/>
<circle cx="1053.78" cy="737.32" r="6.2"/>
<circle cx="1059.25" cy="737.21" r="6.2"/>
<circle cx="1063.73" cy="737.12" r="6.2"/>
<circle cx="1067.51" cy="737.05" r="6.2"/>
<circle cx="1076.26" cy="736.87" r="6.2"/>
<circle cx="1093.27" cy="735.84" r="6.2"/>
<circle cx="1103.21" cy="735.23" r="6.2"/>
<circle cx="1110.27" cy="734.8" r="6.2"/>
<circle cx="1115.75" cy="734.47" r="6.2"/>
<circle cx="1120.22" cy="734.2" r="6.2"/>
<circle cx="1124" cy="733.97" r="6.2"/>
<circle cx="1132.75" cy="733.44" r="6.2"/>
<circle cx="1149.76" cy="732.3" r="6.2"/>
<circle cx="1159.71" cy="730.01" r="6.2"/>
<circle cx="1166.77" cy="727.72" r="6.2"/>
<circle cx="1172.24" cy="725.44" r="6.2"/>
<circle cx="1176.71" cy="723.15" r="6.2"/>
<circle cx="1180.5" cy="720.86" r="6.2"/>
<circle cx="1189.25" cy="717.43" r="6.2"/>
<circle cx="1206.25" cy="700.86" r="6.2"/>
<circle cx="1216.2" cy="685.42" r="6.2"/>
<circle cx="1223.26" cy="671.13" r="6.2"/>
<circle cx="1228.73" cy="659.13" r="6.2"/>
<circle cx="1233.21" cy="647.7" r="6.2"/>
<circle cx="1236.99" cy="637.41" r="6.2"/>
<circle cx="1245.74" cy="612.83" r="6.2"/>
<circle cx="1262.75" cy="565.96" r="6.2"/>
<circle cx="1272.69" cy="543.67" r="6.2"/>
<circle cx="1279.75" cy="532.24" r="6.2"/>
<circle cx="1285.23" cy="525.95" r="6.2"/>
<circle cx="1293.48" cy="518.52" r="6.2"/>
<circle cx="1302.23" cy="513.94" r="6.2"/>
<circle cx="1312.18" cy="511.09" r="6.2"/>
<circle cx="1319.24" cy="509.94" r="6.2"/>
<circle cx="1329.19" cy="508.8" r="6.2"/>
<circle cx="1341.72" cy="508.23" r="6.2"/>
<circle cx="1349.98" cy="508.23" r="6.2"/>
<circle cx="1358.73" cy="508.23" r="6.2"/>
</g>
</g>
<rect x="943.5" y="462.5" width="435" height="302.8" fill="none" stroke="#000" stroke-width="1.3"/>
<path d="M943.5 748.3h-4.6M943.5 691.14h-4.6M943.5 633.98h-4.6M943.5 576.82h-4.6M943.5 519.66h-4.6M943.5 462.5h-4.6M1019.77 765.3v4.6M1132.75 765.3v4.6M1245.74 765.3v4.6M1358.73 765.3v4.6" stroke="#000" stroke-width="1.3" fill="none"/>
<g font-family='"Liberation Sans", sans-serif' fill="#000">
<text x="933.6" y="757.45" font-size="26.2" text-anchor="end" textLength="38.76" lengthAdjust="spacingAndGlyphs">0.0</text>
<text x="933.6" y="700.29" font-size="26.2" text-anchor="end" textLength="38.76" lengthAdjust="spacingAndGlyphs">0.1</text>
<text x="933.6" y="643.13" font-size="26.2" text-anchor="end" textLength="38.76" lengthAdjust="spacingAndGlyphs">0.2</text>
<text x="933.6" y="585.97" font-size="26.2" text-anchor="end" textLength="38.76" lengthAdjust="spacingAndGlyphs">0.3</text>
<text x="933.6" y="528.81" font-size="26.2" text-anchor="end" textLength="38.76" lengthAdjust="spacingAndGlyphs">0.4</text>
<text x="933.6" y="471.65" font-size="26.2" text-anchor="end" textLength="38.76" lengthAdjust="spacingAndGlyphs">0.5</text>
<text x="991.33" y="794.5" font-size="26.2" text-anchor="start" textLength="31.81" lengthAdjust="spacingAndGlyphs">10</text>
<text x="1023.14" y="784.5" font-size="17.82" text-anchor="start" textLength="25.06" lengthAdjust="spacingAndGlyphs">−4</text>
<text x="1104.32" y="794.5" font-size="26.2" text-anchor="start" textLength="31.81" lengthAdjust="spacingAndGlyphs">10</text>
<text x="1136.13" y="784.5" font-size="17.82" text-anchor="start" textLength="25.06" lengthAdjust="spacingAndGlyphs">−2</text>
<text x="1224.43" y="794.5" font-size="26.2" text-anchor="start" textLength="31.81" lengthAdjust="spacingAndGlyphs">10</text>
<text x="1256.24" y="784.5" font-size="17.82" text-anchor="start" textLength="10.82" lengthAdjust="spacingAndGlyphs">0</text>
<text x="1337.41" y="794.5" font-size="26.2" text-anchor="start" textLength="31.81" lengthAdjust="spacingAndGlyphs">10</text>
<text x="1369.23" y="784.5" font-size="17.82" text-anchor="start" textLength="10.82" lengthAdjust="spacingAndGlyphs">2</text>
</g>
<text transform="translate(879.5 614) rotate(-90)" font-family='"Liberation Sans", sans-serif' font-size="28.6" font-style="italic" text-anchor="middle">μ′</text>
<text x="1161" y="825" font-family='"Liberation Sans", sans-serif' font-size="28.2" font-style="italic" text-anchor="middle">ω</text>
<g>
<rect x="957.3" y="476.3" width="174.2" height="115.8" rx="4" fill="#000" fill-opacity="0.45"/>
<rect x="954.7" y="473.7" width="174.2" height="115.8" rx="4" fill="#fff" stroke="#cccccc" stroke-width="1.1"/>
<path d="M985.5 482.6V504.6" stroke="#000" stroke-width="2.2"/>
<path d="M980.3 482.6h10.4M980.3 504.6h10.4" stroke="#000" stroke-width="1.5"/>
<circle cx="985.5" cy="493.6" r="6.4" fill="#bfbf00" stroke="#000" stroke-width="1.2"/>
<text x="1026.7" y="500.4" font-family='"Liberation Sans", sans-serif' font-size="22.2" font-style="italic">ϕ</text>
<text x="1054.3" y="500.4" font-family='"Liberation Sans", sans-serif' font-size="21.2" text-anchor="middle" textLength="17.2" lengthAdjust="spacingAndGlyphs">=</text>
<text x="1116.7" y="500.4" font-family='"Liberation Sans", sans-serif' font-size="21.2" text-anchor="end" textLength="47.5" lengthAdjust="spacingAndGlyphs">10%</text>
<path d="M985.5 519.3V541.3" stroke="#000" stroke-width="2.2"/>
<path d="M980.3 519.3h10.4M980.3 541.3h10.4" stroke="#000" stroke-width="1.5"/>
<circle cx="985.5" cy="530.3" r="6.4" fill="#008000" stroke="#000" stroke-width="1.2"/>
<text x="1026.7" y="537.1" font-family='"Liberation Sans", sans-serif' font-size="22.2" font-style="italic">ϕ</text>
<text x="1054.3" y="537.1" font-family='"Liberation Sans", sans-serif' font-size="21.2" text-anchor="middle" textLength="17.2" lengthAdjust="spacingAndGlyphs">=</text>
<text x="1116.7" y="537.1" font-family='"Liberation Sans", sans-serif' font-size="21.2" text-anchor="end" textLength="47.5" lengthAdjust="spacingAndGlyphs">20%</text>
<path d="M985.5 555.8V577.8" stroke="#000" stroke-width="2.2"/>
<path d="M980.3 555.8h10.4M980.3 577.8h10.4" stroke="#000" stroke-width="1.5"/>
<circle cx="985.5" cy="566.8" r="6.4" fill="#0000ff" stroke="#000" stroke-width="1.2"/>
<text x="1026.7" y="573.6" font-family='"Liberation Sans", sans-serif' font-size="22.2" font-style="italic">ϕ</text>
<text x="1054.3" y="573.6" font-family='"Liberation Sans", sans-serif' font-size="21.2" text-anchor="middle" textLength="17.2" lengthAdjust="spacingAndGlyphs">=</text>
<text x="1116.7" y="573.6" font-family='"Liberation Sans", sans-serif' font-size="21.2" text-anchor="end" textLength="47.5" lengthAdjust="spacingAndGlyphs">25%</text>
</g>
<clipPath id="clip3"><rect x="333.4" y="911.5" width="459" height="285.8"/></clipPath>
<path d="M333.4 1197.3H792.4M333.4 1140.14H792.4M333.4 1082.98H792.4M333.4 1025.82H792.4M333.4 968.66H792.4M333.4 911.5H792.4M333.4 911.5V1197.3M532.88 911.5V1197.3M732.35 911.5V1197.3" stroke="#b0b0b0" stroke-width="1.1" fill="none"/>
<g clip-path="url(#clip3)">
<polyline points="333.4,1114.42 349.19,1114.42 368.53,1114.42 379.37,1114.42 393.45,1114.42 428.57,1114.42 453.5,1114.42 472.83,1114.42 488.62,1114.42 501.98,1114.42 513.54,1114.42 523.75,1114.42 532.88,1114.42 541.13,1114.42 548.67,1114.42 555.6,1114.42 562.02,1114.42 568,1114.42 573.59,1114.42 578.84,1114.42 583.8,1114.42 588.48,1114.42 592.92,1114.42 612.26,1114.42 628.05,1114.42 641.4,1114.42 652.97,1114.42 663.18,1114.42 672.3,1116.13 688.1,1118.42 701.45,1120.13 713.02,1122.99 723.22,1125.28 732.35,1127.56 740.61,1129.28 748.15,1131.57 761.5,1135.57 767.48,1137.19 773.07,1138.71 778.32,1140.14 783.27,1141.15 787.96,1142.1 792.4,1143" fill="none" stroke="#bfbf00" stroke-width="1.7"/>
<path d="M333.4 1112.7V1116.13M349.19 1112.7V1116.13M368.53 1112.7V1116.13M379.37 1112.7V1116.13M393.45 1112.7V1116.13M428.57 1112.7V1116.13M453.5 1112.7V1116.13M472.83 1112.7V1116.13M488.62 1112.7V1116.13M501.98 1112.7V1116.13M513.54 1112.7V1116.13M523.75 1112.7V1116.13M532.88 1112.7V1116.13M541.13 1112.7V1116.13M548.67 1112.7V1116.13M555.6 1112.7V1116.13M562.02 1112.7V1116.13M568 1112.7V1116.13M573.59 1112.7V1116.13M578.84 1112.7V1116.13M583.8 1112.7V1116.13M588.48 1112.7V1116.13M592.92 1112.7V1116.13M612.26 1112.7V1116.13M628.05 1112.7V1116.13M641.4 1112.7V1116.13M652.97 1112.7V1116.13M663.18 1112.7V1116.13M672.3 1114.42V1117.85M688.1 1116.7V1120.13M701.45 1118.42V1121.85M713.02 1121.28V1124.71M723.22 1123.56V1126.99M732.35 1125.85V1129.28M740.61 1127.56V1130.99M748.15 1129.85V1133.28M761.5 1133.85V1137.28M767.48 1135.48V1138.91M773.07 1137V1140.43M778.32 1138.43V1141.85M783.27 1139.43V1142.86M787.96 1140.38V1143.81M792.4 1141.28V1144.71" stroke="#000" stroke-width="1.8" fill="none"/>
<path d="M327.9 1112.7h11M327.9 1116.13h11M343.69 1112.7h11M343.69 1116.13h11M363.03 1112.7h11M363.03 1116.13h11M373.87 1112.7h11M373.87 1116.13h11M387.95 1112.7h11M387.95 1116.13h11M423.07 1112.7h11M423.07 1116.13h11M448 1112.7h11M448 1116.13h11M467.33 1112.7h11M467.33 1116.13h11M483.12 1112.7h11M483.12 1116.13h11M496.48 1112.7h11M496.48 1116.13h11M508.04 1112.7h11M508.04 1116.13h11M518.25 1112.7h11M518.25 1116.13h11M527.38 1112.7h11M527.38 1116.13h11M535.63 1112.7h11M535.63 1116.13h11M543.17 1112.7h11M543.17 1116.13h11M550.1 1112.7h11M550.1 1116.13h11M556.52 1112.7h11M556.52 1116.13h11M562.5 1112.7h11M562.5 1116.13h11M568.09 1112.7h11M568.09 1116.13h11M573.34 1112.7h11M573.34 1116.13h11M578.3 1112.7h11M578.3 1116.13h11M582.98 1112.7h11M582.98 1116.13h11M587.42 1112.7h11M587.42 1116.13h11M606.76 1112.7h11M606.76 1116.13h11M622.55 1112.7h11M622.55 1116.13h11M635.9 1112.7h11M635.9 1116.13h11M647.47 1112.7h11M647.47 1116.13h11M657.68 1112.7h11M657.68 1116.13h11M666.8 1114.42h11M666.8 1117.85h11M682.6 1116.7h11M682.6 1120.13h11M695.95 1118.42h11M695.95 1121.85h11M707.52 1121.28h11M707.52 1124.71h11M717.72 1123.56h11M717.72 1126.99h11M726.85 1125.85h11M726.85 1129.28h11M735.11 1127.56h11M735.11 1130.99h11M742.65 1129.85h11M742.65 1133.28h11M756 1133.85h11M756 1137.28h11M761.98 1135.48h11M761.98 1138.91h11M767.57 1137h11M767.57 1140.43h11M772.82 1138.43h11M772.82 1141.85h11M777.77 1139.43h11M777.77 1142.86h11M782.46 1140.38h11M782.46 1143.81h11M786.9 1141.28h11M786.9 1144.71h11" stroke="#000" stroke-width="1.5" fill="none"/>
<g fill="#bfbf00" stroke="#000" stroke-width="1.2">
<circle cx="333.4" cy="1114.42" r="6.2"/>
<circle cx="349.19" cy="1114.42" r="6.2"/>
<circle cx="368.53" cy="1114.42" r="6.2"/>
<circle cx="379.37" cy="1114.42" r="6.2"/>
<circle cx="393.45" cy="1114.42" r="6.2"/>
<circle cx="428.57" cy="1114.42" r="6.2"/>
<circle cx="453.5" cy="1114.42" r="6.2"/>
<circle cx="472.83" cy="1114.42" r="6.2"/>
<circle cx="488.62" cy="1114.42" r="6.2"/>
<circle cx="501.98" cy="1114.42" r="6.2"/>
<circle cx="513.54" cy="1114.42" r="6.2"/>
<circle cx="523.75" cy="1114.42" r="6.2"/>
<circle cx="532.88" cy="1114.42" r="6.2"/>
<circle cx="541.13" cy="1114.42" r="6.2"/>
<circle cx="548.67" cy="1114.42" r="6.2"/>
<circle cx="555.6" cy="1114.42" r="6.2"/>
<circle cx="562.02" cy="1114.42" r="6.2"/>
<circle cx="568" cy="1114.42" r="6.2"/>
<circle cx="573.59" cy="1114.42" r="6.2"/>
<circle cx="578.84" cy="1114.42" r="6.2"/>
<circle cx="583.8" cy="1114.42" r="6.2"/>
<circle cx="588.48" cy="1114.42" r="6.2"/>
<circle cx="592.92" cy="1114.42" r="6.2"/>
<circle cx="612.26" cy="1114.42" r="6.2"/>
<circle cx="628.05" cy="1114.42" r="6.2"/>
<circle cx="641.4" cy="1114.42" r="6.2"/>
<circle cx="652.97" cy="1114.42" r="6.2"/>
<circle cx="663.18" cy="1114.42" r="6.2"/>
<circle cx="672.3" cy="1116.13" r="6.2"/>
<circle cx="688.1" cy="1118.42" r="6.2"/>
<circle cx="701.45" cy="1120.13" r="6.2"/>
<circle cx="713.02" cy="1122.99" r="6.2"/>
<circle cx="723.22" cy="1125.28" r="6.2"/>
<circle cx="732.35" cy="1127.56" r="6.2"/>
<circle cx="740.61" cy="1129.28" r="6.2"/>
<circle cx="748.15" cy="1131.57" r="6.2"/>
<circle cx="761.5" cy="1135.57" r="6.2"/>
<circle cx="767.48" cy="1137.19" r="6.2"/>
<circle cx="773.07" cy="1138.71" r="6.2"/>
<circle cx="778.32" cy="1140.14" r="6.2"/>
<circle cx="783.27" cy="1141.15" r="6.2"/>
<circle cx="787.96" cy="1142.1" r="6.2"/>
<circle cx="792.4" cy="1143" r="6.2"/>
</g>
<polyline points="333.4,1058.97 349.19,1058.97 368.53,1058.97 379.37,1058.97 393.45,1058.97 428.57,1058.97 453.5,1058.97 472.83,1058.97 488.62,1058.97 501.98,1058.97 513.54,1058.97 523.75,1058.67 532.88,1058.4 541.13,1057.36 548.67,1056.42 555.6,1055.54 562.02,1053.77 568,1052.11 573.59,1049.76 578.84,1047.54 583.8,1046.07 588.48,1044.68 592.92,1043.54 612.26,1033.82 628.05,1028.11 641.4,1025.82 652.97,1025.82 663.18,1027.53 672.3,1029.82 688.1,1035.54 701.45,1041.82 713.02,1047.54 723.22,1053.83 732.35,1059.54 740.61,1064.69 748.15,1070.4 761.5,1079.55 767.48,1083.21 773.07,1086.63 778.32,1089.84 783.27,1092.85 787.96,1095.71 792.4,1098.41" fill="none" stroke="#008000" stroke-width="1.7"/>
<path d="M333.4 1056.11V1061.83M349.19 1056.11V1061.83M368.53 1056.11V1061.83M379.37 1056.11V1061.83M393.45 1056.11V1061.83M428.57 1056.11V1061.83M453.5 1056.11V1061.83M472.83 1056.11V1061.83M488.62 1056.11V1061.83M501.98 1056.11V1061.83M513.54 1056.11V1061.83M523.75 1055.81V1061.53M532.88 1055.54V1061.26M541.13 1054.5V1060.22M548.67 1053.56V1059.27M555.6 1052.69V1058.4M562.02 1050.91V1056.63M568 1049.26V1054.97M573.59 1046.9V1052.61M578.84 1044.68V1050.4M583.8 1043.21V1048.93M588.48 1041.82V1047.54M592.92 1040.68V1046.4M612.26 1027.53V1040.11M628.05 1021.82V1034.39M641.4 1019.53V1032.11M652.97 1019.53V1032.11M663.18 1024.68V1030.39M672.3 1026.96V1032.68M688.1 1032.68V1038.4M701.45 1038.97V1044.68M713.02 1044.68V1050.4M723.22 1050.97V1056.69M732.35 1056.69V1062.4M740.61 1061.83V1067.55M748.15 1067.55V1073.26M761.5 1076.69V1082.41M767.48 1080.35V1086.06M773.07 1083.77V1089.48M778.32 1086.98V1092.7M783.27 1090V1095.71M787.96 1092.85V1098.57M792.4 1095.56V1101.27" stroke="#000" stroke-width="1.8" fill="none"/>
<path d="M327.9 1056.11h11M327.9 1061.83h11M343.69 1056.11h11M343.69 1061.83h11M363.03 1056.11h11M363.03 1061.83h11M373.87 1056.11h11M373.87 1061.83h11M387.95 1056.11h11M387.95 1061.83h11M423.07 1056.11h11M423.07 1061.83h11M448 1056.11h11M448 1061.83h11M467.33 1056.11h11M467.33 1061.83h11M483.12 1056.11h11M483.12 1061.83h11M496.48 1056.11h11M496.48 1061.83h11M508.04 1056.11h11M508.04 1061.83h11M518.25 1055.81h11M518.25 1061.53h11M527.38 1055.54h11M527.38 1061.26h11M535.63 1054.5h11M535.63 1060.22h11M543.17 1053.56h11M543.17 1059.27h11M550.1 1052.69h11M550.1 1058.4h11M556.52 1050.91h11M556.52 1056.63h11M562.5 1049.26h11M562.5 1054.97h11M568.09 1046.9h11M568.09 1052.61h11M573.34 1044.68h11M573.34 1050.4h11M578.3 1043.21h11M578.3 1048.93h11M582.98 1041.82h11M582.98 1047.54h11M587.42 1040.68h11M587.42 1046.4h11M606.76 1027.53h11M606.76 1040.11h11M622.55 1021.82h11M622.55 1034.39h11M635.9 1019.53h11M635.9 1032.11h11M647.47 1019.53h11M647.47 1032.11h11M657.68 1024.68h11M657.68 1030.39h11M666.8 1026.96h11M666.8 1032.68h11M682.6 1032.68h11M682.6 1038.4h11M695.95 1038.97h11M695.95 1044.68h11M707.52 1044.68h11M707.52 1050.4h11M717.72 1050.97h11M717.72 1056.69h11M726.85 1056.69h11M726.85 1062.4h11M735.11 1061.83h11M735.11 1067.55h11M742.65 1067.55h11M742.65 1073.26h11M756 1076.69h11M756 1082.41h11M761.98 1080.35h11M761.98 1086.06h11M767.57 1083.77h11M767.57 1089.48h11M772.82 1086.98h11M772.82 1092.7h11M777.77 1090h11M777.77 1095.71h11M782.46 1092.85h11M782.46 1098.57h11M786.9 1095.56h11M786.9 1101.27h11" stroke="#000" stroke-width="1.5" fill="none"/>
<g fill="#008000" stroke="#000" stroke-width="1.2">
<circle cx="333.4" cy="1058.97" r="6.2"/>
<circle cx="349.19" cy="1058.97" r="6.2"/>
<circle cx="368.53" cy="1058.97" r="6.2"/>
<circle cx="379.37" cy="1058.97" r="6.2"/>
<circle cx="393.45" cy="1058.97" r="6.2"/>
<circle cx="428.57" cy="1058.97" r="6.2"/>
<circle cx="453.5" cy="1058.97" r="6.2"/>
<circle cx="472.83" cy="1058.97" r="6.2"/>
<circle cx="488.62" cy="1058.97" r="6.2"/>
<circle cx="501.98" cy="1058.97" r="6.2"/>
<circle cx="513.54" cy="1058.97" r="6.2"/>
<circle cx="523.75" cy="1058.67" r="6.2"/>
<circle cx="532.88" cy="1058.4" r="6.2"/>
<circle cx="541.13" cy="1057.36" r="6.2"/>
<circle cx="548.67" cy="1056.42" r="6.2"/>
<circle cx="555.6" cy="1055.54" r="6.2"/>
<circle cx="562.02" cy="1053.77" r="6.2"/>
<circle cx="568" cy="1052.11" r="6.2"/>
<circle cx="573.59" cy="1049.76" r="6.2"/>
<circle cx="578.84" cy="1047.54" r="6.2"/>
<circle cx="583.8" cy="1046.07" r="6.2"/>
<circle cx="588.48" cy="1044.68" r="6.2"/>
<circle cx="592.92" cy="1043.54" r="6.2"/>
<circle cx="612.26" cy="1033.82" r="6.2"/>
<circle cx="628.05" cy="1028.11" r="6.2"/>
<circle cx="641.4" cy="1025.82" r="6.2"/>
<circle cx="652.97" cy="1025.82" r="6.2"/>
<circle cx="663.18" cy="1027.53" r="6.2"/>
<circle cx="672.3" cy="1029.82" r="6.2"/>
<circle cx="688.1" cy="1035.54" r="6.2"/>
<circle cx="701.45" cy="1041.82" r="6.2"/>
<circle cx="713.02" cy="1047.54" r="6.2"/>
<circle cx="723.22" cy="1053.83" r="6.2"/>
<circle cx="732.35" cy="1059.54" r="6.2"/>
<circle cx="740.61" cy="1064.69" r="6.2"/>
<circle cx="748.15" cy="1070.4" r="6.2"/>
<circle cx="761.5" cy="1079.55" r="6.2"/>
<circle cx="767.48" cy="1083.21" r="6.2"/>
<circle cx="773.07" cy="1086.63" r="6.2"/>
<circle cx="778.32" cy="1089.84" r="6.2"/>
<circle cx="783.27" cy="1092.85" r="6.2"/>
<circle cx="787.96" cy="1095.71" r="6.2"/>
<circle cx="792.4" cy="1098.41" r="6.2"/>
</g>
<polyline points="333.4,1039.25 349.19,1039.25 368.53,1039.25 379.37,1039.25 393.45,1039.25 428.57,1039.25 453.5,1039.25 472.83,1039.25 488.62,1039.25 501.98,1039.25 513.54,1039.25 523.75,1038.5 532.88,1037.82 541.13,1035.13 548.67,1032.68 555.6,1029.12 562.02,1025.82 568,1021.39 573.59,1017.25 578.84,1012.24 583.8,1007.53 588.48,1003.72 592.92,1000.1 612.26,984.09 628.05,974.38 641.4,971.18 652.97,971.18 663.18,973.8 672.3,976.09 688.1,984.09 701.45,992.67 713.02,1000.67 723.22,1006.96 732.35,1014.96 740.61,1022.39 748.15,1029.82 761.5,1042.4 767.48,1046.66 773.07,1050.65 778.32,1054.4 783.27,1057.82 787.96,1061.05 792.4,1064.12" fill="none" stroke="#0000ff" stroke-width="1.7"/>
<path d="M333.4 1036.39V1042.11M349.19 1036.39V1042.11M368.53 1036.39V1042.11M379.37 1036.39V1042.11M393.45 1036.39V1042.11M428.57 1036.39V1042.11M453.5 1036.39V1042.11M472.83 1036.39V1042.11M488.62 1036.39V1042.11M501.98 1036.39V1042.11M513.54 1036.39V1042.11M523.75 1035.64V1041.36M532.88 1034.97V1040.68M541.13 1032.28V1037.99M548.67 1029.82V1035.54M555.6 1026.26V1031.98M562.02 1022.96V1028.68M568 1018.53V1024.25M573.59 1014.39V1020.1M578.84 1009.39V1015.1M583.8 1004.67V1010.39M588.48 1000.86V1006.57M592.92 997.24V1002.96M612.26 981.24V986.95M628.05 968.09V980.66M641.4 964.89V977.46M652.97 964.89V977.46M663.18 967.52V980.09M672.3 969.8V982.38M688.1 977.81V990.38M701.45 986.38V998.95M713.02 994.38V1006.96M723.22 1000.67V1013.24M732.35 1008.67V1021.25M740.61 1016.1V1028.68M748.15 1023.53V1036.11M761.5 1036.11V1048.68M767.48 1040.37V1052.95M773.07 1044.36V1056.94M778.32 1048.11V1060.69M783.27 1051.53V1064.11M787.96 1054.76V1067.34M792.4 1057.83V1070.4" stroke="#000" stroke-width="1.8" fill="none"/>
<path d="M327.9 1036.39h11M327.9 1042.11h11M343.69 1036.39h11M343.69 1042.11h11M363.03 1036.39h11M363.03 1042.11h11M373.87 1036.39h11M373.87 1042.11h11M387.95 1036.39h11M387.95 1042.11h11M423.07 1036.39h11M423.07 1042.11h11M448 1036.39h11M448 1042.11h11M467.33 1036.39h11M467.33 1042.11h11M483.12 1036.39h11M483.12 1042.11h11M496.48 1036.39h11M496.48 1042.11h11M508.04 1036.39h11M508.04 1042.11h11M518.25 1035.64h11M518.25 1041.36h11M527.38 1034.97h11M527.38 1040.68h11M535.63 1032.28h11M535.63 1037.99h11M543.17 1029.82h11M543.17 1035.54h11M550.1 1026.26h11M550.1 1031.98h11M556.52 1022.96h11M556.52 1028.68h11M562.5 1018.53h11M562.5 1024.25h11M568.09 1014.39h11M568.09 1020.1h11M573.34 1009.39h11M573.34 1015.1h11M578.3 1004.67h11M578.3 1010.39h11M582.98 1000.86h11M582.98 1006.57h11M587.42 997.24h11M587.42 1002.96h11M606.76 981.24h11M606.76 986.95h11M622.55 968.09h11M622.55 980.66h11M635.9 964.89h11M635.9 977.46h11M647.47 964.89h11M647.47 977.46h11M657.68 967.52h11M657.68 980.09h11M666.8 969.8h11M666.8 982.38h11M682.6 977.81h11M682.6 990.38h11M695.95 986.38h11M695.95 998.95h11M707.52 994.38h11M707.52 1006.96h11M717.72 1000.67h11M717.72 1013.24h11M726.85 1008.67h11M726.85 1021.25h11M735.11 1016.1h11M735.11 1028.68h11M742.65 1023.53h11M742.65 1036.11h11M756 1036.11h11M756 1048.68h11M761.98 1040.37h11M761.98 1052.95h11M767.57 1044.36h11M767.57 1056.94h11M772.82 1048.11h11M772.82 1060.69h11M777.77 1051.53h11M777.77 1064.11h11M782.46 1054.76h11M782.46 1067.34h11M786.9 1057.83h11M786.9 1070.4h11" stroke="#000" stroke-width="1.5" fill="none"/>
<g fill="#0000ff" stroke="#000" stroke-width="1.2">
<circle cx="333.4" cy="1039.25" r="6.2"/>
<circle cx="349.19" cy="1039.25" r="6.2"/>
<circle cx="368.53" cy="1039.25" r="6.2"/>
<circle cx="379.37" cy="1039.25" r="6.2"/>
<circle cx="393.45" cy="1039.25" r="6.2"/>
<circle cx="428.57" cy="1039.25" r="6.2"/>
<circle cx="453.5" cy="1039.25" r="6.2"/>
<circle cx="472.83" cy="1039.25" r="6.2"/>
<circle cx="488.62" cy="1039.25" r="6.2"/>
<circle cx="501.98" cy="1039.25" r="6.2"/>
<circle cx="513.54" cy="1039.25" r="6.2"/>
<circle cx="523.75" cy="1038.5" r="6.2"/>
<circle cx="532.88" cy="1037.82" r="6.2"/>
<circle cx="541.13" cy="1035.13" r="6.2"/>
<circle cx="548.67" cy="1032.68" r="6.2"/>
<circle cx="555.6" cy="1029.12" r="6.2"/>
<circle cx="562.02" cy="1025.82" r="6.2"/>
<circle cx="568" cy="1021.39" r="6.2"/>
<circle cx="573.59" cy="1017.25" r="6.2"/>
<circle cx="578.84" cy="1012.24" r="6.2"/>
<circle cx="583.8" cy="1007.53" r="6.2"/>
<circle cx="588.48" cy="1003.72" r="6.2"/>
<circle cx="592.92" cy="1000.1" r="6.2"/>
<circle cx="612.26" cy="984.09" r="6.2"/>
<circle cx="628.05" cy="974.38" r="6.2"/>
<circle cx="641.4" cy="971.18" r="6.2"/>
<circle cx="652.97" cy="971.18" r="6.2"/>
<circle cx="663.18" cy="973.8" r="6.2"/>
<circle cx="672.3" cy="976.09" r="6.2"/>
<circle cx="688.1" cy="984.09" r="6.2"/>
<circle cx="701.45" cy="992.67" r="6.2"/>
<circle cx="713.02" cy="1000.67" r="6.2"/>
<circle cx="723.22" cy="1006.96" r="6.2"/>
<circle cx="732.35" cy="1014.96" r="6.2"/>
<circle cx="740.61" cy="1022.39" r="6.2"/>
<circle cx="748.15" cy="1029.82" r="6.2"/>
<circle cx="761.5" cy="1042.4" r="6.2"/>
<circle cx="767.48" cy="1046.66" r="6.2"/>
<circle cx="773.07" cy="1050.65" r="6.2"/>
<circle cx="778.32" cy="1054.4" r="6.2"/>
<circle cx="783.27" cy="1057.82" r="6.2"/>
<circle cx="787.96" cy="1061.05" r="6.2"/>
<circle cx="792.4" cy="1064.12" r="6.2"/>
</g>
</g>
<rect x="333.4" y="911.5" width="459" height="285.8" fill="none" stroke="#000" stroke-width="1.3"/>
<path d="M333.4 1197.3h-4.6M333.4 1140.14h-4.6M333.4 1082.98h-4.6M333.4 1025.82h-4.6M333.4 968.66h-4.6M333.4 911.5h-4.6M333.4 1197.3v4.6M532.88 1197.3v4.6M732.35 1197.3v4.6" stroke="#000" stroke-width="1.3" fill="none"/>
<path d="M393.45 1197.3v2.6M428.57 1197.3v2.6M453.5 1197.3v2.6M472.83 1197.3v2.6M488.62 1197.3v2.6M501.98 1197.3v2.6M513.54 1197.3v2.6M523.75 1197.3v2.6M592.92 1197.3v2.6M628.05 1197.3v2.6M652.97 1197.3v2.6M672.3 1197.3v2.6M688.1 1197.3v2.6M701.45 1197.3v2.6M713.02 1197.3v2.6M723.22 1197.3v2.6M792.4 1197.3v2.6" stroke="#000" stroke-width="1" fill="none"/>
<g font-family='"Liberation Sans", sans-serif' fill="#000">
<text x="323.5" y="1206.45" font-size="26.2" text-anchor="end" textLength="15.51" lengthAdjust="spacingAndGlyphs">0</text>
<text x="323.5" y="1149.29" font-size="26.2" text-anchor="end" textLength="15.51" lengthAdjust="spacingAndGlyphs">1</text>
<text x="323.5" y="1092.13" font-size="26.2" text-anchor="end" textLength="15.51" lengthAdjust="spacingAndGlyphs">2</text>
<text x="323.5" y="1034.97" font-size="26.2" text-anchor="end" textLength="15.51" lengthAdjust="spacingAndGlyphs">3</text>
<text x="323.5" y="977.81" font-size="26.2" text-anchor="end" textLength="15.51" lengthAdjust="spacingAndGlyphs">4</text>
<text x="323.5" y="920.65" font-size="26.2" text-anchor="end" textLength="15.51" lengthAdjust="spacingAndGlyphs">5</text>
<text x="304.96" y="1226.5" font-size="26.2" text-anchor="start" textLength="31.81" lengthAdjust="spacingAndGlyphs">10</text>
<text x="336.78" y="1216.5" font-size="17.82" text-anchor="start" textLength="25.06" lengthAdjust="spacingAndGlyphs">−1</text>
<text x="511.56" y="1226.5" font-size="26.2" text-anchor="start" textLength="31.81" lengthAdjust="spacingAndGlyphs">10</text>
<text x="543.37" y="1216.5" font-size="17.82" text-anchor="start" textLength="10.82" lengthAdjust="spacingAndGlyphs">0</text>
<text x="711.04" y="1226.5" font-size="26.2" text-anchor="start" textLength="31.81" lengthAdjust="spacingAndGlyphs">10</text>
<text x="742.85" y="1216.5" font-size="17.82" text-anchor="start" textLength="10.82" lengthAdjust="spacingAndGlyphs">1</text>
<text x="332.1" y="907.2" font-size="26.2" text-anchor="start" textLength="68.14" lengthAdjust="spacingAndGlyphs">1e−3</text>
</g>
<text transform="translate(293.5 1055) rotate(-90)" font-family='"Liberation Sans", sans-serif' font-size="28.6" font-style="italic" text-anchor="middle">μ″</text>
<g font-family='"Liberation Sans", sans-serif' fill="#000"><text x="530.2" y="1256.5" font-size="26.2" font-style="italic">u</text><text x="545.7" y="1261" font-size="18.5">0</text><text x="557.7" y="1256.5" font-size="26.2">, %</text></g>
<clipPath id="clip4"><rect x="958.5" y="890.3" width="418.8" height="308.6"/></clipPath>
<path d="M958.5 1198.9H1377.3M958.5 1102.7H1377.3M958.5 1006.49H1377.3M958.5 910.29H1377.3M1031.93 890.3V1198.9M1140.71 890.3V1198.9M1249.48 890.3V1198.9M1358.26 890.3V1198.9" stroke="#b0b0b0" stroke-width="1.1" fill="none"/>
<g clip-path="url(#clip4)">
<path d="M977.54 1196.01V1199.86M987.11 1195.84V1199.69M993.91 1195.72V1199.57M1010.28 1195.43V1199.28M1015.55 1195.34V1199.19M1023.5 1195.2V1199.05M1031.93 1195.05V1198.9M1048.3 1193.89V1197.74M1057.88 1193.22V1197.06M1064.67 1192.74V1196.58M1069.94 1192.36V1196.21M1074.25 1192.06V1195.91M1077.89 1191.8V1195.65M1086.32 1191.2V1195.05M1102.69 1190.05V1193.89M1112.27 1189.37V1193.22M1119.06 1188.89V1192.74M1124.33 1188.51V1192.36M1128.64 1188.21V1192.06M1132.28 1187.95V1191.8M1140.71 1187.36V1191.2M1157.08 1182.74V1186.59M1166.66 1180.04V1183.89M1173.45 1177.54V1181.39M1178.72 1174.85V1178.7M1183.03 1171.96V1175.81M1186.67 1169.65V1173.5M1195.09 1166.58V1170.42M1211.47 1155.8V1159.65M1221.05 1148.87V1152.72M1227.84 1144.64V1148.49M1233.11 1142.53V1146.37M1237.42 1139.64V1143.49M1241.06 1136.95V1140.79M1249.48 1135.98V1139.83M1265.86 1144.64V1148.49M1275.43 1155.8V1159.65M1282.23 1162.73V1166.58M1287.5 1167.92V1171.77M1295.45 1174.85V1178.7M1303.87 1180.81V1184.66M1313.45 1186.01V1189.86M1320.25 1188.13V1191.97M1329.82 1189.09V1192.94M1341.89 1191.2V1195.05M1349.84 1192.17V1196.01M1358.26 1193.13V1196.98" stroke="#000" stroke-width="1.8" fill="none"/>
<path d="M972.04 1196.01h11M972.04 1199.86h11M981.61 1195.84h11M981.61 1199.69h11M988.41 1195.72h11M988.41 1199.57h11M1004.78 1195.43h11M1004.78 1199.28h11M1010.05 1195.34h11M1010.05 1199.19h11M1018 1195.2h11M1018 1199.05h11M1026.43 1195.05h11M1026.43 1198.9h11M1042.8 1193.89h11M1042.8 1197.74h11M1052.38 1193.22h11M1052.38 1197.06h11M1059.17 1192.74h11M1059.17 1196.58h11M1064.44 1192.36h11M1064.44 1196.21h11M1068.75 1192.06h11M1068.75 1195.91h11M1072.39 1191.8h11M1072.39 1195.65h11M1080.82 1191.2h11M1080.82 1195.05h11M1097.19 1190.05h11M1097.19 1193.89h11M1106.77 1189.37h11M1106.77 1193.22h11M1113.56 1188.89h11M1113.56 1192.74h11M1118.83 1188.51h11M1118.83 1192.36h11M1123.14 1188.21h11M1123.14 1192.06h11M1126.78 1187.95h11M1126.78 1191.8h11M1135.21 1187.36h11M1135.21 1191.2h11M1151.58 1182.74h11M1151.58 1186.59h11M1161.16 1180.04h11M1161.16 1183.89h11M1167.95 1177.54h11M1167.95 1181.39h11M1173.22 1174.85h11M1173.22 1178.7h11M1177.53 1171.96h11M1177.53 1175.81h11M1181.17 1169.65h11M1181.17 1173.5h11M1189.59 1166.58h11M1189.59 1170.42h11M1205.97 1155.8h11M1205.97 1159.65h11M1215.55 1148.87h11M1215.55 1152.72h11M1222.34 1144.64h11M1222.34 1148.49h11M1227.61 1142.53h11M1227.61 1146.37h11M1231.92 1139.64h11M1231.92 1143.49h11M1235.56 1136.95h11M1235.56 1140.79h11M1243.98 1135.98h11M1243.98 1139.83h11M1260.36 1144.64h11M1260.36 1148.49h11M1269.93 1155.8h11M1269.93 1159.65h11M1276.73 1162.73h11M1276.73 1166.58h11M1282 1167.92h11M1282 1171.77h11M1289.95 1174.85h11M1289.95 1178.7h11M1298.37 1180.81h11M1298.37 1184.66h11M1307.95 1186.01h11M1307.95 1189.86h11M1314.75 1188.13h11M1314.75 1191.97h11M1324.32 1189.09h11M1324.32 1192.94h11M1336.39 1191.2h11M1336.39 1195.05h11M1344.34 1192.17h11M1344.34 1196.01h11M1352.76 1193.13h11M1352.76 1196.98h11" stroke="#000" stroke-width="1.5" fill="none"/>
<g fill="#bfbf00" stroke="#000" stroke-width="1.2">
<circle cx="977.54" cy="1197.94" r="6.2"/>
<circle cx="987.11" cy="1197.77" r="6.2"/>
<circle cx="993.91" cy="1197.65" r="6.2"/>
<circle cx="1010.28" cy="1197.36" r="6.2"/>
<circle cx="1015.55" cy="1197.27" r="6.2"/>
<circle cx="1023.5" cy="1197.12" r="6.2"/>
<circle cx="1031.93" cy="1196.98" r="6.2"/>
<circle cx="1048.3" cy="1195.82" r="6.2"/>
<circle cx="1057.88" cy="1195.14" r="6.2"/>
<circle cx="1064.67" cy="1194.66" r="6.2"/>
<circle cx="1069.94" cy="1194.29" r="6.2"/>
<circle cx="1074.25" cy="1193.98" r="6.2"/>
<circle cx="1077.89" cy="1193.72" r="6.2"/>
<circle cx="1086.32" cy="1193.13" r="6.2"/>
<circle cx="1102.69" cy="1191.97" r="6.2"/>
<circle cx="1112.27" cy="1191.29" r="6.2"/>
<circle cx="1119.06" cy="1190.81" r="6.2"/>
<circle cx="1124.33" cy="1190.44" r="6.2"/>
<circle cx="1128.64" cy="1190.13" r="6.2"/>
<circle cx="1132.28" cy="1189.88" r="6.2"/>
<circle cx="1140.71" cy="1189.28" r="6.2"/>
<circle cx="1157.08" cy="1184.66" r="6.2"/>
<circle cx="1166.66" cy="1181.97" r="6.2"/>
<circle cx="1173.45" cy="1179.47" r="6.2"/>
<circle cx="1178.72" cy="1176.77" r="6.2"/>
<circle cx="1183.03" cy="1173.89" r="6.2"/>
<circle cx="1186.67" cy="1171.58" r="6.2"/>
<circle cx="1195.09" cy="1168.5" r="6.2"/>
<circle cx="1211.47" cy="1157.73" r="6.2"/>
<circle cx="1221.05" cy="1150.8" r="6.2"/>
<circle cx="1227.84" cy="1146.57" r="6.2"/>
<circle cx="1233.11" cy="1144.45" r="6.2"/>
<circle cx="1237.42" cy="1141.56" r="6.2"/>
<circle cx="1241.06" cy="1138.87" r="6.2"/>
<circle cx="1249.48" cy="1137.91" r="6.2"/>
<circle cx="1265.86" cy="1146.57" r="6.2"/>
<circle cx="1275.43" cy="1157.73" r="6.2"/>
<circle cx="1282.23" cy="1164.65" r="6.2"/>
<circle cx="1287.5" cy="1169.85" r="6.2"/>
<circle cx="1295.45" cy="1176.77" r="6.2"/>
<circle cx="1303.87" cy="1182.74" r="6.2"/>
<circle cx="1313.45" cy="1187.93" r="6.2"/>
<circle cx="1320.25" cy="1190.05" r="6.2"/>
<circle cx="1329.82" cy="1191.01" r="6.2"/>
<circle cx="1341.89" cy="1193.13" r="6.2"/>
<circle cx="1349.84" cy="1194.09" r="6.2"/>
<circle cx="1358.26" cy="1195.05" r="6.2"/>
</g>
<path d="M977.54 1195.44V1199.28M987.11 1195.3V1199.15M993.91 1195.21V1199.05M1010.28 1194.97V1198.82M1015.55 1194.9V1198.75M1023.5 1194.79V1198.63M1031.93 1194.67V1198.52M1048.3 1193.33V1197.18M1057.88 1192.56V1196.4M1064.67 1192V1195.85M1069.94 1191.57V1195.42M1074.25 1191.22V1195.07M1077.89 1190.93V1194.78M1086.32 1190.24V1194.09M1102.69 1187.52V1191.37M1112.27 1185.93V1189.78M1119.06 1184.8V1188.65M1124.33 1183.92V1187.77M1128.64 1183.2V1187.05M1132.28 1182.6V1186.45M1140.71 1181.2V1185.05M1157.08 1167.15V1171M1166.66 1160.42V1164.27M1173.45 1154.65V1158.49M1178.72 1149.84V1153.68M1183.03 1143.1V1146.95M1186.67 1136.37V1140.22M1195.09 1119.63V1123.48M1211.47 1080.96V1084.8M1221.05 1049.79V1062.48M1227.84 1031.7V1044.4M1233.11 1019.39V1032.08M1237.42 1010.92V1023.62M1241.06 1005.92V1018.62M1249.48 999.76V1012.46M1265.86 1024V1036.7M1275.43 1053.63V1066.33M1282.23 1081.72V1085.57M1287.5 1099.62V1103.47M1295.45 1123.09V1126.94M1303.87 1142.91V1146.76M1313.45 1160.03V1163.88M1320.25 1168.69V1172.54M1329.82 1178.31V1182.16M1341.89 1185.05V1188.89M1349.84 1187.36V1191.2M1358.26 1189.28V1193.13" stroke="#000" stroke-width="1.8" fill="none"/>
<path d="M972.04 1195.44h11M972.04 1199.28h11M981.61 1195.3h11M981.61 1199.15h11M988.41 1195.21h11M988.41 1199.05h11M1004.78 1194.97h11M1004.78 1198.82h11M1010.05 1194.9h11M1010.05 1198.75h11M1018 1194.79h11M1018 1198.63h11M1026.43 1194.67h11M1026.43 1198.52h11M1042.8 1193.33h11M1042.8 1197.18h11M1052.38 1192.56h11M1052.38 1196.4h11M1059.17 1192h11M1059.17 1195.85h11M1064.44 1191.57h11M1064.44 1195.42h11M1068.75 1191.22h11M1068.75 1195.07h11M1072.39 1190.93h11M1072.39 1194.78h11M1080.82 1190.24h11M1080.82 1194.09h11M1097.19 1187.52h11M1097.19 1191.37h11M1106.77 1185.93h11M1106.77 1189.78h11M1113.56 1184.8h11M1113.56 1188.65h11M1118.83 1183.92h11M1118.83 1187.77h11M1123.14 1183.2h11M1123.14 1187.05h11M1126.78 1182.6h11M1126.78 1186.45h11M1135.21 1181.2h11M1135.21 1185.05h11M1151.58 1167.15h11M1151.58 1171h11M1161.16 1160.42h11M1161.16 1164.27h11M1167.95 1154.65h11M1167.95 1158.49h11M1173.22 1149.84h11M1173.22 1153.68h11M1177.53 1143.1h11M1177.53 1146.95h11M1181.17 1136.37h11M1181.17 1140.22h11M1189.59 1119.63h11M1189.59 1123.48h11M1205.97 1080.96h11M1205.97 1084.8h11M1215.55 1049.79h11M1215.55 1062.48h11M1222.34 1031.7h11M1222.34 1044.4h11M1227.61 1019.39h11M1227.61 1032.08h11M1231.92 1010.92h11M1231.92 1023.62h11M1235.56 1005.92h11M1235.56 1018.62h11M1243.98 999.76h11M1243.98 1012.46h11M1260.36 1024h11M1260.36 1036.7h11M1269.93 1053.63h11M1269.93 1066.33h11M1276.73 1081.72h11M1276.73 1085.57h11M1282 1099.62h11M1282 1103.47h11M1289.95 1123.09h11M1289.95 1126.94h11M1298.37 1142.91h11M1298.37 1146.76h11M1307.95 1160.03h11M1307.95 1163.88h11M1314.75 1168.69h11M1314.75 1172.54h11M1324.32 1178.31h11M1324.32 1182.16h11M1336.39 1185.05h11M1336.39 1188.89h11M1344.34 1187.36h11M1344.34 1191.2h11M1352.76 1189.28h11M1352.76 1193.13h11" stroke="#000" stroke-width="1.5" fill="none"/>
<g fill="#008000" stroke="#000" stroke-width="1.2">
<circle cx="977.54" cy="1197.36" r="6.2"/>
<circle cx="987.11" cy="1197.23" r="6.2"/>
<circle cx="993.91" cy="1197.13" r="6.2"/>
<circle cx="1010.28" cy="1196.9" r="6.2"/>
<circle cx="1015.55" cy="1196.82" r="6.2"/>
<circle cx="1023.5" cy="1196.71" r="6.2"/>
<circle cx="1031.93" cy="1196.59" r="6.2"/>
<circle cx="1048.3" cy="1195.26" r="6.2"/>
<circle cx="1057.88" cy="1194.48" r="6.2"/>
<circle cx="1064.67" cy="1193.93" r="6.2"/>
<circle cx="1069.94" cy="1193.5" r="6.2"/>
<circle cx="1074.25" cy="1193.15" r="6.2"/>
<circle cx="1077.89" cy="1192.85" r="6.2"/>
<circle cx="1086.32" cy="1192.17" r="6.2"/>
<circle cx="1102.69" cy="1189.44" r="6.2"/>
<circle cx="1112.27" cy="1187.85" r="6.2"/>
<circle cx="1119.06" cy="1186.72" r="6.2"/>
<circle cx="1124.33" cy="1185.84" r="6.2"/>
<circle cx="1128.64" cy="1185.13" r="6.2"/>
<circle cx="1132.28" cy="1184.52" r="6.2"/>
<circle cx="1140.71" cy="1183.12" r="6.2"/>
<circle cx="1157.08" cy="1169.08" r="6.2"/>
<circle cx="1166.66" cy="1162.34" r="6.2"/>
<circle cx="1173.45" cy="1156.57" r="6.2"/>
<circle cx="1178.72" cy="1151.76" r="6.2"/>
<circle cx="1183.03" cy="1145.03" r="6.2"/>
<circle cx="1186.67" cy="1138.29" r="6.2"/>
<circle cx="1195.09" cy="1121.55" r="6.2"/>
<circle cx="1211.47" cy="1082.88" r="6.2"/>
<circle cx="1221.05" cy="1056.13" r="6.2"/>
<circle cx="1227.84" cy="1038.05" r="6.2"/>
<circle cx="1233.11" cy="1025.73" r="6.2"/>
<circle cx="1237.42" cy="1017.27" r="6.2"/>
<circle cx="1241.06" cy="1012.27" r="6.2"/>
<circle cx="1249.48" cy="1006.11" r="6.2"/>
<circle cx="1265.86" cy="1030.35" r="6.2"/>
<circle cx="1275.43" cy="1059.98" r="6.2"/>
<circle cx="1282.23" cy="1083.65" r="6.2"/>
<circle cx="1287.5" cy="1101.54" r="6.2"/>
<circle cx="1295.45" cy="1125.02" r="6.2"/>
<circle cx="1303.87" cy="1144.83" r="6.2"/>
<circle cx="1313.45" cy="1161.96" r="6.2"/>
<circle cx="1320.25" cy="1170.62" r="6.2"/>
<circle cx="1329.82" cy="1180.24" r="6.2"/>
<circle cx="1341.89" cy="1186.97" r="6.2"/>
<circle cx="1349.84" cy="1189.28" r="6.2"/>
<circle cx="1358.26" cy="1191.2" r="6.2"/>
</g>
<path d="M977.54 1195.24V1199.09M987.11 1195.14V1198.99M993.91 1195.07V1198.92M1010.28 1194.9V1198.74M1015.55 1194.84V1198.69M1023.5 1194.76V1198.6M1031.93 1194.67V1198.52M1048.3 1194.28V1198.13M1057.88 1193.51V1197.35M1064.67 1192.96V1196.8M1069.94 1192.53V1196.38M1074.25 1192.18V1196.03M1077.89 1191.89V1195.73M1086.32 1191.2V1195.05M1102.69 1188.32V1192.17M1112.27 1185.82V1189.66M1119.06 1183.43V1187.28M1124.33 1181.58V1185.43M1128.64 1179.5V1183.35M1132.28 1177.74V1181.58M1140.71 1173.5V1177.35M1157.08 1160.42V1164.27M1166.66 1148.87V1152.72M1173.45 1137.33V1141.18M1178.72 1125.79V1129.63M1183.03 1116.17V1120.01M1186.67 1106.55V1110.39M1195.09 1082.69V1086.53M1211.47 1024V1027.85M1221.05 982.83V995.53M1227.84 958.97V971.67M1233.11 942.42V955.12M1237.42 930.88V943.58M1241.06 923.95V936.65M1249.48 917.41V930.11M1265.86 949.35V962.05M1275.43 991.68V1004.38M1282.23 1028.43V1032.28M1287.5 1053.83V1057.67M1295.45 1087.88V1091.73M1303.87 1117.13V1120.98M1313.45 1142.53V1146.37M1320.25 1155.03V1158.88M1329.82 1168.69V1172.54M1341.89 1180.81V1184.66M1349.84 1185.05V1188.89M1358.26 1188.51V1192.36" stroke="#000" stroke-width="1.8" fill="none"/>
<path d="M972.04 1195.24h11M972.04 1199.09h11M981.61 1195.14h11M981.61 1198.99h11M988.41 1195.07h11M988.41 1198.92h11M1004.78 1194.9h11M1004.78 1198.74h11M1010.05 1194.84h11M1010.05 1198.69h11M1018 1194.76h11M1018 1198.6h11M1026.43 1194.67h11M1026.43 1198.52h11M1042.8 1194.28h11M1042.8 1198.13h11M1052.38 1193.51h11M1052.38 1197.35h11M1059.17 1192.96h11M1059.17 1196.8h11M1064.44 1192.53h11M1064.44 1196.38h11M1068.75 1192.18h11M1068.75 1196.03h11M1072.39 1191.89h11M1072.39 1195.73h11M1080.82 1191.2h11M1080.82 1195.05h11M1097.19 1188.32h11M1097.19 1192.17h11M1106.77 1185.82h11M1106.77 1189.66h11M1113.56 1183.43h11M1113.56 1187.28h11M1118.83 1181.58h11M1118.83 1185.43h11M1123.14 1179.5h11M1123.14 1183.35h11M1126.78 1177.74h11M1126.78 1181.58h11M1135.21 1173.5h11M1135.21 1177.35h11M1151.58 1160.42h11M1151.58 1164.27h11M1161.16 1148.87h11M1161.16 1152.72h11M1167.95 1137.33h11M1167.95 1141.18h11M1173.22 1125.79h11M1173.22 1129.63h11M1177.53 1116.17h11M1177.53 1120.01h11M1181.17 1106.55h11M1181.17 1110.39h11M1189.59 1082.69h11M1189.59 1086.53h11M1205.97 1024h11M1205.97 1027.85h11M1215.55 982.83h11M1215.55 995.53h11M1222.34 958.97h11M1222.34 971.67h11M1227.61 942.42h11M1227.61 955.12h11M1231.92 930.88h11M1231.92 943.58h11M1235.56 923.95h11M1235.56 936.65h11M1243.98 917.41h11M1243.98 930.11h11M1260.36 949.35h11M1260.36 962.05h11M1269.93 991.68h11M1269.93 1004.38h11M1276.73 1028.43h11M1276.73 1032.28h11M1282 1053.83h11M1282 1057.67h11M1289.95 1087.88h11M1289.95 1091.73h11M1298.37 1117.13h11M1298.37 1120.98h11M1307.95 1142.53h11M1307.95 1146.37h11M1314.75 1155.03h11M1314.75 1158.88h11M1324.32 1168.69h11M1324.32 1172.54h11M1336.39 1180.81h11M1336.39 1184.66h11M1344.34 1185.05h11M1344.34 1188.89h11M1352.76 1188.51h11M1352.76 1192.36h11" stroke="#000" stroke-width="1.5" fill="none"/>
<g fill="#0000ff" stroke="#000" stroke-width="1.2">
<circle cx="977.54" cy="1197.17" r="6.2"/>
<circle cx="987.11" cy="1197.07" r="6.2"/>
<circle cx="993.91" cy="1196.99" r="6.2"/>
<circle cx="1010.28" cy="1196.82" r="6.2"/>
<circle cx="1015.55" cy="1196.76" r="6.2"/>
<circle cx="1023.5" cy="1196.68" r="6.2"/>
<circle cx="1031.93" cy="1196.59" r="6.2"/>
<circle cx="1048.3" cy="1196.21" r="6.2"/>
<circle cx="1057.88" cy="1195.43" r="6.2"/>
<circle cx="1064.67" cy="1194.88" r="6.2"/>
<circle cx="1069.94" cy="1194.45" r="6.2"/>
<circle cx="1074.25" cy="1194.1" r="6.2"/>
<circle cx="1077.89" cy="1193.81" r="6.2"/>
<circle cx="1086.32" cy="1193.13" r="6.2"/>
<circle cx="1102.69" cy="1190.24" r="6.2"/>
<circle cx="1112.27" cy="1187.74" r="6.2"/>
<circle cx="1119.06" cy="1185.36" r="6.2"/>
<circle cx="1124.33" cy="1183.51" r="6.2"/>
<circle cx="1128.64" cy="1181.42" r="6.2"/>
<circle cx="1132.28" cy="1179.66" r="6.2"/>
<circle cx="1140.71" cy="1175.43" r="6.2"/>
<circle cx="1157.08" cy="1162.34" r="6.2"/>
<circle cx="1166.66" cy="1150.8" r="6.2"/>
<circle cx="1173.45" cy="1139.25" r="6.2"/>
<circle cx="1178.72" cy="1127.71" r="6.2"/>
<circle cx="1183.03" cy="1118.09" r="6.2"/>
<circle cx="1186.67" cy="1108.47" r="6.2"/>
<circle cx="1195.09" cy="1084.61" r="6.2"/>
<circle cx="1211.47" cy="1025.93" r="6.2"/>
<circle cx="1221.05" cy="989.18" r="6.2"/>
<circle cx="1227.84" cy="965.32" r="6.2"/>
<circle cx="1233.11" cy="948.77" r="6.2"/>
<circle cx="1237.42" cy="937.23" r="6.2"/>
<circle cx="1241.06" cy="930.3" r="6.2"/>
<circle cx="1249.48" cy="923.76" r="6.2"/>
<circle cx="1265.86" cy="955.7" r="6.2"/>
<circle cx="1275.43" cy="998.03" r="6.2"/>
<circle cx="1282.23" cy="1030.35" r="6.2"/>
<circle cx="1287.5" cy="1055.75" r="6.2"/>
<circle cx="1295.45" cy="1089.81" r="6.2"/>
<circle cx="1303.87" cy="1119.05" r="6.2"/>
<circle cx="1313.45" cy="1144.45" r="6.2"/>
<circle cx="1320.25" cy="1156.96" r="6.2"/>
<circle cx="1329.82" cy="1170.62" r="6.2"/>
<circle cx="1341.89" cy="1182.74" r="6.2"/>
<circle cx="1349.84" cy="1186.97" r="6.2"/>
<circle cx="1358.26" cy="1190.43" r="6.2"/>
</g>
</g>
<rect x="958.5" y="890.3" width="418.8" height="308.6" fill="none" stroke="#000" stroke-width="1.3"/>
<path d="M958.5 1198.9h-4.6M958.5 1102.7h-4.6M958.5 1006.49h-4.6M958.5 910.29h-4.6M1031.93 1198.9v4.6M1140.71 1198.9v4.6M1249.48 1198.9v4.6M1358.26 1198.9v4.6" stroke="#000" stroke-width="1.3" fill="none"/>
<g font-family='"Liberation Sans", sans-serif' fill="#000">
<text x="948.6" y="1208.05" font-size="26.2" text-anchor="end" textLength="54.27" lengthAdjust="spacingAndGlyphs">0.00</text>
<text x="948.6" y="1111.85" font-size="26.2" text-anchor="end" textLength="54.27" lengthAdjust="spacingAndGlyphs">0.05</text>
<text x="948.6" y="1015.64" font-size="26.2" text-anchor="end" textLength="54.27" lengthAdjust="spacingAndGlyphs">0.10</text>
<text x="948.6" y="919.44" font-size="26.2" text-anchor="end" textLength="54.27" lengthAdjust="spacingAndGlyphs">0.15</text>
<text x="1003.49" y="1228.1" font-size="26.2" text-anchor="start" textLength="31.81" lengthAdjust="spacingAndGlyphs">10</text>
<text x="1035.3" y="1218.1" font-size="17.82" text-anchor="start" textLength="25.06" lengthAdjust="spacingAndGlyphs">−4</text>
<text x="1112.27" y="1228.1" font-size="26.2" text-anchor="start" textLength="31.81" lengthAdjust="spacingAndGlyphs">10</text>
<text x="1144.08" y="1218.1" font-size="17.82" text-anchor="start" textLength="25.06" lengthAdjust="spacingAndGlyphs">−2</text>
<text x="1228.17" y="1228.1" font-size="26.2" text-anchor="start" textLength="31.81" lengthAdjust="spacingAndGlyphs">10</text>
<text x="1259.98" y="1218.1" font-size="17.82" text-anchor="start" textLength="10.82" lengthAdjust="spacingAndGlyphs">0</text>
<text x="1336.95" y="1228.1" font-size="26.2" text-anchor="start" textLength="31.81" lengthAdjust="spacingAndGlyphs">10</text>
<text x="1368.76" y="1218.1" font-size="17.82" text-anchor="start" textLength="10.82" lengthAdjust="spacingAndGlyphs">2</text>
</g>
<text transform="translate(879.5 1046) rotate(-90)" font-family='"Liberation Sans", sans-serif' font-size="28.6" font-style="italic" text-anchor="middle">μ″</text>
<text x="1167.6" y="1258.6" font-family='"Liberation Sans", sans-serif' font-size="28.2" font-style="italic" text-anchor="middle">ω</text>
<clipPath id="clip5"><rect x="353.5" y="1331.6" width="439" height="299.8"/></clipPath>
<path d="M353.5 1631.4H792.5M353.5 1571.44H792.5M353.5 1511.48H792.5M353.5 1451.52H792.5M353.5 1391.56H792.5M353.5 1331.6H792.5M353.5 1331.6V1631.4M544.05 1331.6V1631.4M734.61 1331.6V1631.4" stroke="#b0b0b0" stroke-width="1.1" fill="none"/>
<g clip-path="url(#clip5)">
<polyline points="353.5,1530.67 368.59,1530.67 387.06,1530.67 397.41,1530.67 410.86,1530.67 444.42,1530.67 468.23,1530.67 486.69,1530.67 501.78,1530.67 514.54,1530.67 525.59,1530.67 535.34,1530.67 544.05,1530.67 551.94,1530.67 559.14,1530.67 565.77,1530.67 571.9,1530.67 577.61,1530.67 582.95,1530.67 587.97,1530.67 592.7,1530.67 597.17,1530.67 601.42,1530.67 619.88,1529.47 634.97,1525.87 647.73,1522.87 658.78,1519.57 668.53,1516.28 677.25,1512.08 692.34,1505.48 705.09,1501.59 716.14,1498.29 725.89,1495.89 734.61,1493.49 742.5,1491.99 749.7,1491.09 762.45,1489.89 768.16,1489.89 773.51,1489.89 778.52,1489.89 783.25,1489.89 787.73,1489.89 791.97,1489.89" fill="none" stroke="#bfbf00" stroke-width="1.7"/>
<path d="M353.5 1529.17V1532.17M368.59 1529.17V1532.17M387.06 1529.17V1532.17M397.41 1529.17V1532.17M410.86 1529.17V1532.17M444.42 1529.17V1532.17M468.23 1529.17V1532.17M486.69 1529.17V1532.17M501.78 1529.17V1532.17M514.54 1529.17V1532.17M525.59 1529.17V1532.17M535.34 1529.17V1532.17M544.05 1529.17V1532.17M551.94 1529.17V1532.17M559.14 1529.17V1532.17M565.77 1529.17V1532.17M571.9 1529.17V1532.17M577.61 1529.17V1532.17M582.95 1529.17V1532.17M587.97 1529.17V1532.17M592.7 1529.17V1532.17M597.17 1529.17V1532.17M601.42 1529.17V1532.17M619.88 1527.97V1530.97M634.97 1524.37V1527.37M647.73 1521.37V1524.37M658.78 1518.08V1521.07M668.53 1514.78V1517.78M677.25 1510.58V1513.58M692.34 1503.98V1506.98M705.09 1500.09V1503.09M716.14 1496.79V1499.79M725.89 1494.39V1497.39M734.61 1491.99V1494.99M742.5 1490.49V1493.49M749.7 1489.59V1492.59M762.45 1488.4V1491.39M768.16 1488.4V1491.39M773.51 1488.4V1491.39M778.52 1488.4V1491.39M783.25 1488.4V1491.39M787.73 1488.4V1491.39M791.97 1488.4V1491.39" stroke="#000" stroke-width="1.8" fill="none"/>
<path d="M348 1529.17h11M348 1532.17h11M363.09 1529.17h11M363.09 1532.17h11M381.56 1529.17h11M381.56 1532.17h11M391.91 1529.17h11M391.91 1532.17h11M405.36 1529.17h11M405.36 1532.17h11M438.92 1529.17h11M438.92 1532.17h11M462.73 1529.17h11M462.73 1532.17h11M481.19 1529.17h11M481.19 1532.17h11M496.28 1529.17h11M496.28 1532.17h11M509.04 1529.17h11M509.04 1532.17h11M520.09 1529.17h11M520.09 1532.17h11M529.84 1529.17h11M529.84 1532.17h11M538.55 1529.17h11M538.55 1532.17h11M546.44 1529.17h11M546.44 1532.17h11M553.64 1529.17h11M553.64 1532.17h11M560.27 1529.17h11M560.27 1532.17h11M566.4 1529.17h11M566.4 1532.17h11M572.11 1529.17h11M572.11 1532.17h11M577.45 1529.17h11M577.45 1532.17h11M582.47 1529.17h11M582.47 1532.17h11M587.2 1529.17h11M587.2 1532.17h11M591.67 1529.17h11M591.67 1532.17h11M595.92 1529.17h11M595.92 1532.17h11M614.38 1527.97h11M614.38 1530.97h11M629.47 1524.37h11M629.47 1527.37h11M642.23 1521.37h11M642.23 1524.37h11M653.28 1518.08h11M653.28 1521.07h11M663.03 1514.78h11M663.03 1517.78h11M671.75 1510.58h11M671.75 1513.58h11M686.84 1503.98h11M686.84 1506.98h11M699.59 1500.09h11M699.59 1503.09h11M710.64 1496.79h11M710.64 1499.79h11M720.39 1494.39h11M720.39 1497.39h11M729.11 1491.99h11M729.11 1494.99h11M737 1490.49h11M737 1493.49h11M744.2 1489.59h11M744.2 1492.59h11M756.95 1488.4h11M756.95 1491.39h11M762.66 1488.4h11M762.66 1491.39h11M768.01 1488.4h11M768.01 1491.39h11M773.02 1488.4h11M773.02 1491.39h11M777.75 1488.4h11M777.75 1491.39h11M782.23 1488.4h11M782.23 1491.39h11M786.47 1488.4h11M786.47 1491.39h11" stroke="#000" stroke-width="1.5" fill="none"/>
<g fill="#bfbf00" stroke="#000" stroke-width="1.2">
<circle cx="353.5" cy="1530.67" r="6.2"/>
<circle cx="368.59" cy="1530.67" r="6.2"/>
<circle cx="387.06" cy="1530.67" r="6.2"/>
<circle cx="397.41" cy="1530.67" r="6.2"/>
<circle cx="410.86" cy="1530.67" r="6.2"/>
<circle cx="444.42" cy="1530.67" r="6.2"/>
<circle cx="468.23" cy="1530.67" r="6.2"/>
<circle cx="486.69" cy="1530.67" r="6.2"/>
<circle cx="501.78" cy="1530.67" r="6.2"/>
<circle cx="514.54" cy="1530.67" r="6.2"/>
<circle cx="525.59" cy="1530.67" r="6.2"/>
<circle cx="535.34" cy="1530.67" r="6.2"/>
<circle cx="544.05" cy="1530.67" r="6.2"/>
<circle cx="551.94" cy="1530.67" r="6.2"/>
<circle cx="559.14" cy="1530.67" r="6.2"/>
<circle cx="565.77" cy="1530.67" r="6.2"/>
<circle cx="571.9" cy="1530.67" r="6.2"/>
<circle cx="577.61" cy="1530.67" r="6.2"/>
<circle cx="582.95" cy="1530.67" r="6.2"/>
<circle cx="587.97" cy="1530.67" r="6.2"/>
<circle cx="592.7" cy="1530.67" r="6.2"/>
<circle cx="597.17" cy="1530.67" r="6.2"/>
<circle cx="601.42" cy="1530.67" r="6.2"/>
<circle cx="619.88" cy="1529.47" r="6.2"/>
<circle cx="634.97" cy="1525.87" r="6.2"/>
<circle cx="647.73" cy="1522.87" r="6.2"/>
<circle cx="658.78" cy="1519.57" r="6.2"/>
<circle cx="668.53" cy="1516.28" r="6.2"/>
<circle cx="677.25" cy="1512.08" r="6.2"/>
<circle cx="692.34" cy="1505.48" r="6.2"/>
<circle cx="705.09" cy="1501.59" r="6.2"/>
<circle cx="716.14" cy="1498.29" r="6.2"/>
<circle cx="725.89" cy="1495.89" r="6.2"/>
<circle cx="734.61" cy="1493.49" r="6.2"/>
<circle cx="742.5" cy="1491.99" r="6.2"/>
<circle cx="749.7" cy="1491.09" r="6.2"/>
<circle cx="762.45" cy="1489.89" r="6.2"/>
<circle cx="768.16" cy="1489.89" r="6.2"/>
<circle cx="773.51" cy="1489.89" r="6.2"/>
<circle cx="778.52" cy="1489.89" r="6.2"/>
<circle cx="783.25" cy="1489.89" r="6.2"/>
<circle cx="787.73" cy="1489.89" r="6.2"/>
<circle cx="791.97" cy="1489.89" r="6.2"/>
</g>
<polyline points="353.5,1571.44 368.59,1571.44 387.06,1571.44 397.41,1571.44 410.86,1571.44 444.42,1571.44 468.23,1571.44 486.69,1571.44 501.78,1571.44 514.54,1571.44 525.59,1571.44 535.34,1571.44 544.05,1570.84 551.94,1570.06 559.14,1569.34 565.77,1568.16 571.9,1567.06 577.61,1566.04 582.95,1564.19 587.97,1562.45 592.7,1560.91 597.17,1559.45 601.42,1557.65 619.88,1544.46 634.97,1535.46 647.73,1526.47 658.78,1517.48 668.53,1508.48 677.25,1499.49 692.34,1486 705.09,1474.01 716.14,1464.71 725.89,1456.62 734.61,1450.62 742.5,1445.22 749.7,1438.93 762.45,1429.03 768.16,1425.27 773.51,1421.74 778.52,1418.43 783.25,1415.3 787.73,1412.35 791.97,1409.55" fill="none" stroke="#008000" stroke-width="1.7"/>
<path d="M353.5 1569.94V1572.94M368.59 1569.94V1572.94M387.06 1569.94V1572.94M397.41 1569.94V1572.94M410.86 1569.94V1572.94M444.42 1569.94V1572.94M468.23 1569.94V1572.94M486.69 1569.94V1572.94M501.78 1569.94V1572.94M514.54 1569.94V1572.94M525.59 1569.94V1572.94M535.34 1569.94V1572.94M544.05 1569.34V1572.34M551.94 1568.56V1571.56M559.14 1567.84V1570.84M565.77 1566.66V1569.66M571.9 1565.56V1568.56M577.61 1564.54V1567.54M582.95 1562.69V1565.69M587.97 1560.95V1563.95M592.7 1559.41V1562.4M597.17 1557.95V1560.95M601.42 1556.15V1559.15M619.88 1542.96V1545.96M634.97 1533.96V1536.96M647.73 1524.97V1527.97M658.78 1515.98V1518.98M668.53 1506.98V1509.98M677.25 1497.99V1500.99M692.34 1484.5V1487.5M705.09 1472.51V1475.5M716.14 1463.21V1466.21M725.89 1455.12V1458.12M734.61 1449.12V1452.12M742.5 1443.73V1446.72M749.7 1437.43V1440.43M762.45 1427.54V1430.53M768.16 1423.77V1426.76M773.51 1420.24V1423.24M778.52 1416.93V1419.93M783.25 1413.81V1416.8M787.73 1410.85V1413.85M791.97 1408.05V1411.05" stroke="#000" stroke-width="1.8" fill="none"/>
<path d="M348 1569.94h11M348 1572.94h11M363.09 1569.94h11M363.09 1572.94h11M381.56 1569.94h11M381.56 1572.94h11M391.91 1569.94h11M391.91 1572.94h11M405.36 1569.94h11M405.36 1572.94h11M438.92 1569.94h11M438.92 1572.94h11M462.73 1569.94h11M462.73 1572.94h11M481.19 1569.94h11M481.19 1572.94h11M496.28 1569.94h11M496.28 1572.94h11M509.04 1569.94h11M509.04 1572.94h11M520.09 1569.94h11M520.09 1572.94h11M529.84 1569.94h11M529.84 1572.94h11M538.55 1569.34h11M538.55 1572.34h11M546.44 1568.56h11M546.44 1571.56h11M553.64 1567.84h11M553.64 1570.84h11M560.27 1566.66h11M560.27 1569.66h11M566.4 1565.56h11M566.4 1568.56h11M572.11 1564.54h11M572.11 1567.54h11M577.45 1562.69h11M577.45 1565.69h11M582.47 1560.95h11M582.47 1563.95h11M587.2 1559.41h11M587.2 1562.4h11M591.67 1557.95h11M591.67 1560.95h11M595.92 1556.15h11M595.92 1559.15h11M614.38 1542.96h11M614.38 1545.96h11M629.47 1533.96h11M629.47 1536.96h11M642.23 1524.97h11M642.23 1527.97h11M653.28 1515.98h11M653.28 1518.98h11M663.03 1506.98h11M663.03 1509.98h11M671.75 1497.99h11M671.75 1500.99h11M686.84 1484.5h11M686.84 1487.5h11M699.59 1472.51h11M699.59 1475.5h11M710.64 1463.21h11M710.64 1466.21h11M720.39 1455.12h11M720.39 1458.12h11M729.11 1449.12h11M729.11 1452.12h11M737 1443.73h11M737 1446.72h11M744.2 1437.43h11M744.2 1440.43h11M756.95 1427.54h11M756.95 1430.53h11M762.66 1423.77h11M762.66 1426.76h11M768.01 1420.24h11M768.01 1423.24h11M773.02 1416.93h11M773.02 1419.93h11M777.75 1413.81h11M777.75 1416.8h11M782.23 1410.85h11M782.23 1413.85h11M786.47 1408.05h11M786.47 1411.05h11" stroke="#000" stroke-width="1.5" fill="none"/>
<g fill="#008000" stroke="#000" stroke-width="1.2">
<circle cx="353.5" cy="1571.44" r="6.2"/>
<circle cx="368.59" cy="1571.44" r="6.2"/>
<circle cx="387.06" cy="1571.44" r="6.2"/>
<circle cx="397.41" cy="1571.44" r="6.2"/>
<circle cx="410.86" cy="1571.44" r="6.2"/>
<circle cx="444.42" cy="1571.44" r="6.2"/>
<circle cx="468.23" cy="1571.44" r="6.2"/>
<circle cx="486.69" cy="1571.44" r="6.2"/>
<circle cx="501.78" cy="1571.44" r="6.2"/>
<circle cx="514.54" cy="1571.44" r="6.2"/>
<circle cx="525.59" cy="1571.44" r="6.2"/>
<circle cx="535.34" cy="1571.44" r="6.2"/>
<circle cx="544.05" cy="1570.84" r="6.2"/>
<circle cx="551.94" cy="1570.06" r="6.2"/>
<circle cx="559.14" cy="1569.34" r="6.2"/>
<circle cx="565.77" cy="1568.16" r="6.2"/>
<circle cx="571.9" cy="1567.06" r="6.2"/>
<circle cx="577.61" cy="1566.04" r="6.2"/>
<circle cx="582.95" cy="1564.19" r="6.2"/>
<circle cx="587.97" cy="1562.45" r="6.2"/>
<circle cx="592.7" cy="1560.91" r="6.2"/>
<circle cx="597.17" cy="1559.45" r="6.2"/>
<circle cx="601.42" cy="1557.65" r="6.2"/>
<circle cx="619.88" cy="1544.46" r="6.2"/>
<circle cx="634.97" cy="1535.46" r="6.2"/>
<circle cx="647.73" cy="1526.47" r="6.2"/>
<circle cx="658.78" cy="1517.48" r="6.2"/>
<circle cx="668.53" cy="1508.48" r="6.2"/>
<circle cx="677.25" cy="1499.49" r="6.2"/>
<circle cx="692.34" cy="1486" r="6.2"/>
<circle cx="705.09" cy="1474.01" r="6.2"/>
<circle cx="716.14" cy="1464.71" r="6.2"/>
<circle cx="725.89" cy="1456.62" r="6.2"/>
<circle cx="734.61" cy="1450.62" r="6.2"/>
<circle cx="742.5" cy="1445.22" r="6.2"/>
<circle cx="749.7" cy="1438.93" r="6.2"/>
<circle cx="762.45" cy="1429.03" r="6.2"/>
<circle cx="768.16" cy="1425.27" r="6.2"/>
<circle cx="773.51" cy="1421.74" r="6.2"/>
<circle cx="778.52" cy="1418.43" r="6.2"/>
<circle cx="783.25" cy="1415.3" r="6.2"/>
<circle cx="787.73" cy="1412.35" r="6.2"/>
<circle cx="791.97" cy="1409.55" r="6.2"/>
</g>
<polyline points="353.5,1586.13 368.59,1586.13 387.06,1586.13 397.41,1586.13 410.86,1586.13 444.42,1586.13 468.23,1586.13 486.69,1586.13 501.78,1586.13 514.54,1586.13 525.59,1586.13 535.34,1586.13 544.05,1585.23 551.94,1584.29 559.14,1583.43 565.77,1582.19 571.9,1581.03 577.61,1579.53 582.95,1577.44 587.97,1574.44 592.7,1571.44 597.17,1568.44 601.42,1566.04 619.88,1551.05 634.97,1538.46 647.73,1527.97 658.78,1516.88 668.53,1507.58 677.25,1498.29 692.34,1483.6 705.09,1469.81 716.14,1459.01 725.89,1448.52 734.61,1439.53 742.5,1430.53 749.7,1423.04 762.45,1408.95 768.16,1401.82 773.51,1395.14 778.52,1388.88 783.25,1382.97 787.73,1377.38 791.97,1372.07" fill="none" stroke="#0000ff" stroke-width="1.7"/>
<path d="M353.5 1584.63V1587.63M368.59 1584.63V1587.63M387.06 1584.63V1587.63M397.41 1584.63V1587.63M410.86 1584.63V1587.63M444.42 1584.63V1587.63M468.23 1584.63V1587.63M486.69 1584.63V1587.63M501.78 1584.63V1587.63M514.54 1584.63V1587.63M525.59 1584.63V1587.63M535.34 1584.63V1587.63M544.05 1583.73V1586.73M551.94 1582.79V1585.79M559.14 1581.93V1584.93M565.77 1580.69V1583.69M571.9 1579.53V1582.53M577.61 1578.04V1581.03M582.95 1575.94V1578.94M587.97 1572.94V1575.94M592.7 1569.94V1572.94M597.17 1566.94V1569.94M601.42 1564.54V1567.54M619.88 1549.55V1552.55M634.97 1536.96V1539.96M647.73 1526.47V1529.47M658.78 1515.38V1518.38M668.53 1506.08V1509.08M677.25 1496.79V1499.79M692.34 1482.1V1485.1M705.09 1468.31V1471.31M716.14 1457.52V1460.51M725.89 1447.02V1450.02M734.61 1438.03V1441.03M742.5 1429.03V1432.03M749.7 1421.54V1424.54M762.45 1407.45V1410.45M768.16 1400.32V1403.31M773.51 1393.64V1396.64M778.52 1387.38V1390.37M783.25 1381.47V1384.46M787.73 1375.88V1378.88M791.97 1370.57V1373.57" stroke="#000" stroke-width="1.8" fill="none"/>
<path d="M348 1584.63h11M348 1587.63h11M363.09 1584.63h11M363.09 1587.63h11M381.56 1584.63h11M381.56 1587.63h11M391.91 1584.63h11M391.91 1587.63h11M405.36 1584.63h11M405.36 1587.63h11M438.92 1584.63h11M438.92 1587.63h11M462.73 1584.63h11M462.73 1587.63h11M481.19 1584.63h11M481.19 1587.63h11M496.28 1584.63h11M496.28 1587.63h11M509.04 1584.63h11M509.04 1587.63h11M520.09 1584.63h11M520.09 1587.63h11M529.84 1584.63h11M529.84 1587.63h11M538.55 1583.73h11M538.55 1586.73h11M546.44 1582.79h11M546.44 1585.79h11M553.64 1581.93h11M553.64 1584.93h11M560.27 1580.69h11M560.27 1583.69h11M566.4 1579.53h11M566.4 1582.53h11M572.11 1578.04h11M572.11 1581.03h11M577.45 1575.94h11M577.45 1578.94h11M582.47 1572.94h11M582.47 1575.94h11M587.2 1569.94h11M587.2 1572.94h11M591.67 1566.94h11M591.67 1569.94h11M595.92 1564.54h11M595.92 1567.54h11M614.38 1549.55h11M614.38 1552.55h11M629.47 1536.96h11M629.47 1539.96h11M642.23 1526.47h11M642.23 1529.47h11M653.28 1515.38h11M653.28 1518.38h11M663.03 1506.08h11M663.03 1509.08h11M671.75 1496.79h11M671.75 1499.79h11M686.84 1482.1h11M686.84 1485.1h11M699.59 1468.31h11M699.59 1471.31h11M710.64 1457.52h11M710.64 1460.51h11M720.39 1447.02h11M720.39 1450.02h11M729.11 1438.03h11M729.11 1441.03h11M737 1429.03h11M737 1432.03h11M744.2 1421.54h11M744.2 1424.54h11M756.95 1407.45h11M756.95 1410.45h11M762.66 1400.32h11M762.66 1403.31h11M768.01 1393.64h11M768.01 1396.64h11M773.02 1387.38h11M773.02 1390.37h11M777.75 1381.47h11M777.75 1384.46h11M782.23 1375.88h11M782.23 1378.88h11M786.47 1370.57h11M786.47 1373.57h11" stroke="#000" stroke-width="1.5" fill="none"/>
<g fill="#0000ff" stroke="#000" stroke-width="1.2">
<circle cx="353.5" cy="1586.13" r="6.2"/>
<circle cx="368.59" cy="1586.13" r="6.2"/>
<circle cx="387.06" cy="1586.13" r="6.2"/>
<circle cx="397.41" cy="1586.13" r="6.2"/>
<circle cx="410.86" cy="1586.13" r="6.2"/>
<circle cx="444.42" cy="1586.13" r="6.2"/>
<circle cx="468.23" cy="1586.13" r="6.2"/>
<circle cx="486.69" cy="1586.13" r="6.2"/>
<circle cx="501.78" cy="1586.13" r="6.2"/>
<circle cx="514.54" cy="1586.13" r="6.2"/>
<circle cx="525.59" cy="1586.13" r="6.2"/>
<circle cx="535.34" cy="1586.13" r="6.2"/>
<circle cx="544.05" cy="1585.23" r="6.2"/>
<circle cx="551.94" cy="1584.29" r="6.2"/>
<circle cx="559.14" cy="1583.43" r="6.2"/>
<circle cx="565.77" cy="1582.19" r="6.2"/>
<circle cx="571.9" cy="1581.03" r="6.2"/>
<circle cx="577.61" cy="1579.53" r="6.2"/>
<circle cx="582.95" cy="1577.44" r="6.2"/>
<circle cx="587.97" cy="1574.44" r="6.2"/>
<circle cx="592.7" cy="1571.44" r="6.2"/>
<circle cx="597.17" cy="1568.44" r="6.2"/>
<circle cx="601.42" cy="1566.04" r="6.2"/>
<circle cx="619.88" cy="1551.05" r="6.2"/>
<circle cx="634.97" cy="1538.46" r="6.2"/>
<circle cx="647.73" cy="1527.97" r="6.2"/>
<circle cx="658.78" cy="1516.88" r="6.2"/>
<circle cx="668.53" cy="1507.58" r="6.2"/>
<circle cx="677.25" cy="1498.29" r="6.2"/>
<circle cx="692.34" cy="1483.6" r="6.2"/>
<circle cx="705.09" cy="1469.81" r="6.2"/>
<circle cx="716.14" cy="1459.01" r="6.2"/>
<circle cx="725.89" cy="1448.52" r="6.2"/>
<circle cx="734.61" cy="1439.53" r="6.2"/>
<circle cx="742.5" cy="1430.53" r="6.2"/>
<circle cx="749.7" cy="1423.04" r="6.2"/>
<circle cx="762.45" cy="1408.95" r="6.2"/>
<circle cx="768.16" cy="1401.82" r="6.2"/>
<circle cx="773.51" cy="1395.14" r="6.2"/>
<circle cx="778.52" cy="1388.88" r="6.2"/>
<circle cx="783.25" cy="1382.97" r="6.2"/>
<circle cx="787.73" cy="1377.38" r="6.2"/>
<circle cx="791.97" cy="1372.07" r="6.2"/>
</g>
</g>
<rect x="353.5" y="1331.6" width="439" height="299.8" fill="none" stroke="#000" stroke-width="1.3"/>
<path d="M353.5 1631.4h-4.6M353.5 1571.44h-4.6M353.5 1511.48h-4.6M353.5 1451.52h-4.6M353.5 1391.56h-4.6M353.5 1331.6h-4.6M353.5 1631.4v4.6M544.05 1631.4v4.6M734.61 1631.4v4.6" stroke="#000" stroke-width="1.3" fill="none"/>
<path d="M410.86 1631.4v2.6M444.42 1631.4v2.6M468.23 1631.4v2.6M486.69 1631.4v2.6M501.78 1631.4v2.6M514.54 1631.4v2.6M525.59 1631.4v2.6M535.34 1631.4v2.6M601.42 1631.4v2.6M634.97 1631.4v2.6M658.78 1631.4v2.6M677.25 1631.4v2.6M692.34 1631.4v2.6M705.09 1631.4v2.6M716.14 1631.4v2.6M725.89 1631.4v2.6M791.97 1631.4v2.6" stroke="#000" stroke-width="1" fill="none"/>
<g font-family='"Liberation Sans", sans-serif' fill="#000">
<text x="343.6" y="1640.55" font-size="26.2" text-anchor="end" textLength="38.76" lengthAdjust="spacingAndGlyphs">0.0</text>
<text x="343.6" y="1580.59" font-size="26.2" text-anchor="end" textLength="38.76" lengthAdjust="spacingAndGlyphs">0.2</text>
<text x="343.6" y="1520.63" font-size="26.2" text-anchor="end" textLength="38.76" lengthAdjust="spacingAndGlyphs">0.4</text>
<text x="343.6" y="1460.67" font-size="26.2" text-anchor="end" textLength="38.76" lengthAdjust="spacingAndGlyphs">0.6</text>
<text x="343.6" y="1400.71" font-size="26.2" text-anchor="end" textLength="38.76" lengthAdjust="spacingAndGlyphs">0.8</text>
<text x="343.6" y="1340.75" font-size="26.2" text-anchor="end" textLength="38.76" lengthAdjust="spacingAndGlyphs">1.0</text>
<text x="325.06" y="1660.6" font-size="26.2" text-anchor="start" textLength="31.81" lengthAdjust="spacingAndGlyphs">10</text>
<text x="356.88" y="1650.6" font-size="17.82" text-anchor="start" textLength="25.06" lengthAdjust="spacingAndGlyphs">−1</text>
<text x="522.74" y="1660.6" font-size="26.2" text-anchor="start" textLength="31.81" lengthAdjust="spacingAndGlyphs">10</text>
<text x="554.55" y="1650.6" font-size="17.82" text-anchor="start" textLength="10.82" lengthAdjust="spacingAndGlyphs">0</text>
<text x="713.3" y="1660.6" font-size="26.2" text-anchor="start" textLength="31.81" lengthAdjust="spacingAndGlyphs">10</text>
<text x="745.11" y="1650.6" font-size="17.82" text-anchor="start" textLength="10.82" lengthAdjust="spacingAndGlyphs">1</text>
</g>
<text transform="translate(291.4 1482) rotate(-90)" font-family='"Liberation Sans", sans-serif' font-size="26.2" text-anchor="middle" textLength="75" lengthAdjust="spacingAndGlyphs">tan(<tspan font-style="italic">δ</tspan>)</text>
<g font-family='"Liberation Sans", sans-serif' fill="#000"><text x="540.5" y="1692" font-size="26.2" font-style="italic">u</text><text x="556" y="1696.5" font-size="18.5">0</text><text x="568" y="1692" font-size="26.2">, %</text></g>
<clipPath id="clip6"><rect x="939.4" y="1329.7" width="439.2" height="303.5"/></clipPath>
<path d="M939.4 1633.2H1378.6M939.4 1532.44H1378.6M939.4 1431.67H1378.6M939.4 1330.91H1378.6M1016.4 1329.7V1633.2M1130.48 1329.7V1633.2M1244.56 1329.7V1633.2M1358.64 1329.7V1633.2" stroke="#b0b0b0" stroke-width="1.1" fill="none"/>
<g clip-path="url(#clip6)">
<path d="M959.36 1628.16V1630.18M969.41 1627.93V1629.94M976.53 1627.76V1629.77M993.7 1623.33V1625.34M999.23 1622.12V1624.13M1007.57 1620.1V1622.12M1016.4 1617.48V1619.5M1033.57 1607.61V1609.62M1043.62 1599.75V1601.76M1050.74 1593.9V1595.92M1056.27 1587.86V1589.87M1060.79 1582.82V1584.83M1064.61 1577.78V1579.8M1073.44 1566.09V1568.11M1090.61 1542.31V1544.33M1100.66 1527.6V1529.62M1107.78 1518.73V1520.75M1113.31 1512.69V1514.7M1117.83 1507.85V1509.87M1121.65 1502.81V1504.83M1130.48 1495.36V1497.37M1147.65 1483.06V1485.08M1157.7 1479.03V1481.05M1164.82 1477.02V1479.03M1170.35 1476.01V1478.02M1174.87 1475.4V1477.42M1178.68 1475.34V1477.36M1187.52 1475.2V1477.22M1204.69 1480.04V1482.05M1214.73 1486.69V1488.7M1221.86 1493.14V1495.15M1227.39 1499.99V1502.01M1231.9 1506.84V1508.86M1235.72 1513.69V1515.71M1244.56 1530.42V1532.44M1261.73 1566.09V1568.11M1271.77 1584.03V1586.04M1278.9 1596.32V1598.34M1284.43 1602.57V1604.58M1292.76 1610.63V1612.64M1301.6 1617.28V1619.29M1311.64 1622.32V1624.33M1318.77 1625.95V1627.96M1328.81 1628.16V1630.18M1341.47 1629.77V1631.79M1349.8 1630.18V1632.19M1358.64 1630.58V1632.6" stroke="#000" stroke-width="1.8" fill="none"/>
<path d="M953.86 1628.16h11M953.86 1630.18h11M963.91 1627.93h11M963.91 1629.94h11M971.03 1627.76h11M971.03 1629.77h11M988.2 1623.33h11M988.2 1625.34h11M993.73 1622.12h11M993.73 1624.13h11M1002.07 1620.1h11M1002.07 1622.12h11M1010.9 1617.48h11M1010.9 1619.5h11M1028.07 1607.61h11M1028.07 1609.62h11M1038.12 1599.75h11M1038.12 1601.76h11M1045.24 1593.9h11M1045.24 1595.92h11M1050.77 1587.86h11M1050.77 1589.87h11M1055.29 1582.82h11M1055.29 1584.83h11M1059.11 1577.78h11M1059.11 1579.8h11M1067.94 1566.09h11M1067.94 1568.11h11M1085.11 1542.31h11M1085.11 1544.33h11M1095.16 1527.6h11M1095.16 1529.62h11M1102.28 1518.73h11M1102.28 1520.75h11M1107.81 1512.69h11M1107.81 1514.7h11M1112.33 1507.85h11M1112.33 1509.87h11M1116.15 1502.81h11M1116.15 1504.83h11M1124.98 1495.36h11M1124.98 1497.37h11M1142.15 1483.06h11M1142.15 1485.08h11M1152.2 1479.03h11M1152.2 1481.05h11M1159.32 1477.02h11M1159.32 1479.03h11M1164.85 1476.01h11M1164.85 1478.02h11M1169.37 1475.4h11M1169.37 1477.42h11M1173.18 1475.34h11M1173.18 1477.36h11M1182.02 1475.2h11M1182.02 1477.22h11M1199.19 1480.04h11M1199.19 1482.05h11M1209.23 1486.69h11M1209.23 1488.7h11M1216.36 1493.14h11M1216.36 1495.15h11M1221.89 1499.99h11M1221.89 1502.01h11M1226.4 1506.84h11M1226.4 1508.86h11M1230.22 1513.69h11M1230.22 1515.71h11M1239.06 1530.42h11M1239.06 1532.44h11M1256.23 1566.09h11M1256.23 1568.11h11M1266.27 1584.03h11M1266.27 1586.04h11M1273.4 1596.32h11M1273.4 1598.34h11M1278.93 1602.57h11M1278.93 1604.58h11M1287.26 1610.63h11M1287.26 1612.64h11M1296.1 1617.28h11M1296.1 1619.29h11M1306.14 1622.32h11M1306.14 1624.33h11M1313.27 1625.95h11M1313.27 1627.96h11M1323.31 1628.16h11M1323.31 1630.18h11M1335.97 1629.77h11M1335.97 1631.79h11M1344.3 1630.18h11M1344.3 1632.19h11M1353.14 1630.58h11M1353.14 1632.6h11" stroke="#000" stroke-width="1.5" fill="none"/>
<g fill="#bfbf00" stroke="#000" stroke-width="1.2">
<circle cx="959.36" cy="1629.17" r="6.2"/>
<circle cx="969.41" cy="1628.93" r="6.2"/>
<circle cx="976.53" cy="1628.77" r="6.2"/>
<circle cx="993.7" cy="1624.33" r="6.2"/>
<circle cx="999.23" cy="1623.12" r="6.2"/>
<circle cx="1007.57" cy="1621.11" r="6.2"/>
<circle cx="1016.4" cy="1618.49" r="6.2"/>
<circle cx="1033.57" cy="1608.61" r="6.2"/>
<circle cx="1043.62" cy="1600.75" r="6.2"/>
<circle cx="1050.74" cy="1594.91" r="6.2"/>
<circle cx="1056.27" cy="1588.86" r="6.2"/>
<circle cx="1060.79" cy="1583.83" r="6.2"/>
<circle cx="1064.61" cy="1578.79" r="6.2"/>
<circle cx="1073.44" cy="1567.1" r="6.2"/>
<circle cx="1090.61" cy="1543.32" r="6.2"/>
<circle cx="1100.66" cy="1528.61" r="6.2"/>
<circle cx="1107.78" cy="1519.74" r="6.2"/>
<circle cx="1113.31" cy="1513.69" r="6.2"/>
<circle cx="1117.83" cy="1508.86" r="6.2"/>
<circle cx="1121.65" cy="1503.82" r="6.2"/>
<circle cx="1130.48" cy="1496.36" r="6.2"/>
<circle cx="1147.65" cy="1484.07" r="6.2"/>
<circle cx="1157.7" cy="1480.04" r="6.2"/>
<circle cx="1164.82" cy="1478.02" r="6.2"/>
<circle cx="1170.35" cy="1477.02" r="6.2"/>
<circle cx="1174.87" cy="1476.41" r="6.2"/>
<circle cx="1178.68" cy="1476.35" r="6.2"/>
<circle cx="1187.52" cy="1476.21" r="6.2"/>
<circle cx="1204.69" cy="1481.05" r="6.2"/>
<circle cx="1214.73" cy="1487.7" r="6.2"/>
<circle cx="1221.86" cy="1494.15" r="6.2"/>
<circle cx="1227.39" cy="1501" r="6.2"/>
<circle cx="1231.9" cy="1507.85" r="6.2"/>
<circle cx="1235.72" cy="1514.7" r="6.2"/>
<circle cx="1244.56" cy="1531.43" r="6.2"/>
<circle cx="1261.73" cy="1567.1" r="6.2"/>
<circle cx="1271.77" cy="1585.03" r="6.2"/>
<circle cx="1278.9" cy="1597.33" r="6.2"/>
<circle cx="1284.43" cy="1603.58" r="6.2"/>
<circle cx="1292.76" cy="1611.64" r="6.2"/>
<circle cx="1301.6" cy="1618.29" r="6.2"/>
<circle cx="1311.64" cy="1623.33" r="6.2"/>
<circle cx="1318.77" cy="1626.95" r="6.2"/>
<circle cx="1328.81" cy="1629.17" r="6.2"/>
<circle cx="1341.47" cy="1630.78" r="6.2"/>
<circle cx="1349.8" cy="1631.18" r="6.2"/>
<circle cx="1358.64" cy="1631.59" r="6.2"/>
</g>
<path d="M959.36 1629.17V1631.18M969.41 1629.05V1631.07M976.53 1628.97V1630.98M993.7 1627.76V1629.77M999.23 1627.37V1629.38M1007.57 1626.77V1628.79M1016.4 1626.15V1628.16M1033.57 1620.1V1622.12M1043.62 1618.09V1620.1M1050.74 1615.82V1617.83M1056.27 1614.05V1616.07M1060.79 1611.87V1613.89M1064.61 1610.02V1612.04M1073.44 1590.68V1592.69M1090.61 1573.95V1575.97M1100.66 1563.07V1565.08M1107.78 1555.61V1557.63M1113.31 1549.57V1551.58M1117.83 1544.53V1546.54M1121.65 1539.49V1541.51M1130.48 1527.6V1529.62M1147.65 1498.98V1501M1157.7 1478.02V1480.04M1164.82 1460.29V1462.3M1170.35 1450.62V1452.63M1174.87 1441.55V1443.56M1178.68 1431.67V1433.69M1187.52 1420.99V1423.01M1204.69 1418.98V1420.99M1214.73 1434.7V1436.71M1221.86 1450.82V1452.83M1227.39 1464.92V1466.94M1231.9 1477.02V1479.03M1235.72 1487.09V1489.11M1244.56 1511.28V1513.29M1261.73 1553.6V1555.61M1271.77 1573.75V1575.76M1278.9 1586.85V1588.86M1284.43 1594.91V1596.93M1292.76 1604.99V1607M1301.6 1613.05V1615.06M1311.64 1619.5V1621.51M1318.77 1622.12V1624.13M1328.81 1625.34V1627.36M1341.47 1627.76V1629.77M1349.8 1628.77V1630.78M1358.64 1629.37V1631.39" stroke="#000" stroke-width="1.8" fill="none"/>
<path d="M953.86 1629.17h11M953.86 1631.18h11M963.91 1629.05h11M963.91 1631.07h11M971.03 1628.97h11M971.03 1630.98h11M988.2 1627.76h11M988.2 1629.77h11M993.73 1627.37h11M993.73 1629.38h11M1002.07 1626.77h11M1002.07 1628.79h11M1010.9 1626.15h11M1010.9 1628.16h11M1028.07 1620.1h11M1028.07 1622.12h11M1038.12 1618.09h11M1038.12 1620.1h11M1045.24 1615.82h11M1045.24 1617.83h11M1050.77 1614.05h11M1050.77 1616.07h11M1055.29 1611.87h11M1055.29 1613.89h11M1059.11 1610.02h11M1059.11 1612.04h11M1067.94 1590.68h11M1067.94 1592.69h11M1085.11 1573.95h11M1085.11 1575.97h11M1095.16 1563.07h11M1095.16 1565.08h11M1102.28 1555.61h11M1102.28 1557.63h11M1107.81 1549.57h11M1107.81 1551.58h11M1112.33 1544.53h11M1112.33 1546.54h11M1116.15 1539.49h11M1116.15 1541.51h11M1124.98 1527.6h11M1124.98 1529.62h11M1142.15 1498.98h11M1142.15 1501h11M1152.2 1478.02h11M1152.2 1480.04h11M1159.32 1460.29h11M1159.32 1462.3h11M1164.85 1450.62h11M1164.85 1452.63h11M1169.37 1441.55h11M1169.37 1443.56h11M1173.18 1431.67h11M1173.18 1433.69h11M1182.02 1420.99h11M1182.02 1423.01h11M1199.19 1418.98h11M1199.19 1420.99h11M1209.23 1434.7h11M1209.23 1436.71h11M1216.36 1450.82h11M1216.36 1452.83h11M1221.89 1464.92h11M1221.89 1466.94h11M1226.4 1477.02h11M1226.4 1479.03h11M1230.22 1487.09h11M1230.22 1489.11h11M1239.06 1511.28h11M1239.06 1513.29h11M1256.23 1553.6h11M1256.23 1555.61h11M1266.27 1573.75h11M1266.27 1575.76h11M1273.4 1586.85h11M1273.4 1588.86h11M1278.93 1594.91h11M1278.93 1596.93h11M1287.26 1604.99h11M1287.26 1607h11M1296.1 1613.05h11M1296.1 1615.06h11M1306.14 1619.5h11M1306.14 1621.51h11M1313.27 1622.12h11M1313.27 1624.13h11M1323.31 1625.34h11M1323.31 1627.36h11M1335.97 1627.76h11M1335.97 1629.77h11M1344.3 1628.77h11M1344.3 1630.78h11M1353.14 1629.37h11M1353.14 1631.39h11" stroke="#000" stroke-width="1.5" fill="none"/>
<g fill="#008000" stroke="#000" stroke-width="1.2">
<circle cx="959.36" cy="1630.18" r="6.2"/>
<circle cx="969.41" cy="1630.06" r="6.2"/>
<circle cx="976.53" cy="1629.98" r="6.2"/>
<circle cx="993.7" cy="1628.77" r="6.2"/>
<circle cx="999.23" cy="1628.37" r="6.2"/>
<circle cx="1007.57" cy="1627.78" r="6.2"/>
<circle cx="1016.4" cy="1627.15" r="6.2"/>
<circle cx="1033.57" cy="1621.11" r="6.2"/>
<circle cx="1043.62" cy="1619.09" r="6.2"/>
<circle cx="1050.74" cy="1616.82" r="6.2"/>
<circle cx="1056.27" cy="1615.06" r="6.2"/>
<circle cx="1060.79" cy="1612.88" r="6.2"/>
<circle cx="1064.61" cy="1611.03" r="6.2"/>
<circle cx="1073.44" cy="1591.69" r="6.2"/>
<circle cx="1090.61" cy="1574.96" r="6.2"/>
<circle cx="1100.66" cy="1564.08" r="6.2"/>
<circle cx="1107.78" cy="1556.62" r="6.2"/>
<circle cx="1113.31" cy="1550.57" r="6.2"/>
<circle cx="1117.83" cy="1545.54" r="6.2"/>
<circle cx="1121.65" cy="1540.5" r="6.2"/>
<circle cx="1130.48" cy="1528.61" r="6.2"/>
<circle cx="1147.65" cy="1499.99" r="6.2"/>
<circle cx="1157.7" cy="1479.03" r="6.2"/>
<circle cx="1164.82" cy="1461.3" r="6.2"/>
<circle cx="1170.35" cy="1451.62" r="6.2"/>
<circle cx="1174.87" cy="1442.56" r="6.2"/>
<circle cx="1178.68" cy="1432.68" r="6.2"/>
<circle cx="1187.52" cy="1422" r="6.2"/>
<circle cx="1204.69" cy="1419.98" r="6.2"/>
<circle cx="1214.73" cy="1435.7" r="6.2"/>
<circle cx="1221.86" cy="1451.83" r="6.2"/>
<circle cx="1227.39" cy="1465.93" r="6.2"/>
<circle cx="1231.9" cy="1478.02" r="6.2"/>
<circle cx="1235.72" cy="1488.1" r="6.2"/>
<circle cx="1244.56" cy="1512.28" r="6.2"/>
<circle cx="1261.73" cy="1554.6" r="6.2"/>
<circle cx="1271.77" cy="1574.76" r="6.2"/>
<circle cx="1278.9" cy="1587.86" r="6.2"/>
<circle cx="1284.43" cy="1595.92" r="6.2"/>
<circle cx="1292.76" cy="1605.99" r="6.2"/>
<circle cx="1301.6" cy="1614.05" r="6.2"/>
<circle cx="1311.64" cy="1620.5" r="6.2"/>
<circle cx="1318.77" cy="1623.12" r="6.2"/>
<circle cx="1328.81" cy="1626.35" r="6.2"/>
<circle cx="1341.47" cy="1628.77" r="6.2"/>
<circle cx="1349.8" cy="1629.77" r="6.2"/>
<circle cx="1358.64" cy="1630.38" r="6.2"/>
</g>
<path d="M959.36 1629.37V1631.39M969.41 1629.37V1631.39M976.53 1629.37V1631.39M993.7 1628.16V1630.18M999.23 1627.72V1629.74M1007.57 1627.05V1629.07M1016.4 1626.35V1628.36M1033.57 1622.52V1624.53M1043.62 1620.5V1622.52M1050.74 1619.09V1621.11M1056.27 1617.08V1619.09M1060.79 1615.06V1617.08M1064.61 1613.05V1615.06M1073.44 1600.75V1602.77M1090.61 1585.84V1587.86M1100.66 1574.96V1576.97M1107.78 1565.69V1567.7M1113.31 1557.63V1559.64M1117.83 1553.6V1555.61M1121.65 1547.35V1549.36M1130.48 1533.44V1535.46M1147.65 1495.96V1497.98M1157.7 1467.34V1469.36M1164.82 1447.59V1449.61M1170.35 1432.68V1434.7M1174.87 1420.79V1422.81M1178.68 1413.94V1415.95M1187.52 1403.06V1405.07M1204.69 1410.92V1412.93M1214.73 1430.67V1432.68M1221.86 1448.6V1450.62M1227.39 1462.3V1464.32M1231.9 1475.2V1477.22M1235.72 1485.08V1487.09M1244.56 1509.66V1511.68M1261.73 1552.59V1554.6M1271.77 1572.94V1574.96M1278.9 1585.84V1587.86M1284.43 1593.9V1595.92M1292.76 1603.78V1605.79M1301.6 1611.84V1613.85M1311.64 1618.59V1620.6M1318.77 1621.51V1623.53M1328.81 1624.74V1626.75M1341.47 1627.15V1629.17M1349.8 1628.36V1630.38M1358.64 1628.97V1630.98" stroke="#000" stroke-width="1.8" fill="none"/>
<path d="M953.86 1629.37h11M953.86 1631.39h11M963.91 1629.37h11M963.91 1631.39h11M971.03 1629.37h11M971.03 1631.39h11M988.2 1628.16h11M988.2 1630.18h11M993.73 1627.72h11M993.73 1629.74h11M1002.07 1627.05h11M1002.07 1629.07h11M1010.9 1626.35h11M1010.9 1628.36h11M1028.07 1622.52h11M1028.07 1624.53h11M1038.12 1620.5h11M1038.12 1622.52h11M1045.24 1619.09h11M1045.24 1621.11h11M1050.77 1617.08h11M1050.77 1619.09h11M1055.29 1615.06h11M1055.29 1617.08h11M1059.11 1613.05h11M1059.11 1615.06h11M1067.94 1600.75h11M1067.94 1602.77h11M1085.11 1585.84h11M1085.11 1587.86h11M1095.16 1574.96h11M1095.16 1576.97h11M1102.28 1565.69h11M1102.28 1567.7h11M1107.81 1557.63h11M1107.81 1559.64h11M1112.33 1553.6h11M1112.33 1555.61h11M1116.15 1547.35h11M1116.15 1549.36h11M1124.98 1533.44h11M1124.98 1535.46h11M1142.15 1495.96h11M1142.15 1497.98h11M1152.2 1467.34h11M1152.2 1469.36h11M1159.32 1447.59h11M1159.32 1449.61h11M1164.85 1432.68h11M1164.85 1434.7h11M1169.37 1420.79h11M1169.37 1422.81h11M1173.18 1413.94h11M1173.18 1415.95h11M1182.02 1403.06h11M1182.02 1405.07h11M1199.19 1410.92h11M1199.19 1412.93h11M1209.23 1430.67h11M1209.23 1432.68h11M1216.36 1448.6h11M1216.36 1450.62h11M1221.89 1462.3h11M1221.89 1464.32h11M1226.4 1475.2h11M1226.4 1477.22h11M1230.22 1485.08h11M1230.22 1487.09h11M1239.06 1509.66h11M1239.06 1511.68h11M1256.23 1552.59h11M1256.23 1554.6h11M1266.27 1572.94h11M1266.27 1574.96h11M1273.4 1585.84h11M1273.4 1587.86h11M1278.93 1593.9h11M1278.93 1595.92h11M1287.26 1603.78h11M1287.26 1605.79h11M1296.1 1611.84h11M1296.1 1613.85h11M1306.14 1618.59h11M1306.14 1620.6h11M1313.27 1621.51h11M1313.27 1623.53h11M1323.31 1624.74h11M1323.31 1626.75h11M1335.97 1627.15h11M1335.97 1629.17h11M1344.3 1628.36h11M1344.3 1630.38h11M1353.14 1628.97h11M1353.14 1630.98h11" stroke="#000" stroke-width="1.5" fill="none"/>
<g fill="#0000ff" stroke="#000" stroke-width="1.2">
<circle cx="959.36" cy="1630.38" r="6.2"/>
<circle cx="969.41" cy="1630.38" r="6.2"/>
<circle cx="976.53" cy="1630.38" r="6.2"/>
<circle cx="993.7" cy="1629.17" r="6.2"/>
<circle cx="999.23" cy="1628.73" r="6.2"/>
<circle cx="1007.57" cy="1628.06" r="6.2"/>
<circle cx="1016.4" cy="1627.36" r="6.2"/>
<circle cx="1033.57" cy="1623.53" r="6.2"/>
<circle cx="1043.62" cy="1621.51" r="6.2"/>
<circle cx="1050.74" cy="1620.1" r="6.2"/>
<circle cx="1056.27" cy="1618.09" r="6.2"/>
<circle cx="1060.79" cy="1616.07" r="6.2"/>
<circle cx="1064.61" cy="1614.05" r="6.2"/>
<circle cx="1073.44" cy="1601.76" r="6.2"/>
<circle cx="1090.61" cy="1586.85" r="6.2"/>
<circle cx="1100.66" cy="1575.97" r="6.2"/>
<circle cx="1107.78" cy="1566.7" r="6.2"/>
<circle cx="1113.31" cy="1558.63" r="6.2"/>
<circle cx="1117.83" cy="1554.6" r="6.2"/>
<circle cx="1121.65" cy="1548.36" r="6.2"/>
<circle cx="1130.48" cy="1534.45" r="6.2"/>
<circle cx="1147.65" cy="1496.97" r="6.2"/>
<circle cx="1157.7" cy="1468.35" r="6.2"/>
<circle cx="1164.82" cy="1448.6" r="6.2"/>
<circle cx="1170.35" cy="1433.69" r="6.2"/>
<circle cx="1174.87" cy="1421.8" r="6.2"/>
<circle cx="1178.68" cy="1414.95" r="6.2"/>
<circle cx="1187.52" cy="1404.06" r="6.2"/>
<circle cx="1204.69" cy="1411.92" r="6.2"/>
<circle cx="1214.73" cy="1431.67" r="6.2"/>
<circle cx="1221.86" cy="1449.61" r="6.2"/>
<circle cx="1227.39" cy="1463.31" r="6.2"/>
<circle cx="1231.9" cy="1476.21" r="6.2"/>
<circle cx="1235.72" cy="1486.09" r="6.2"/>
<circle cx="1244.56" cy="1510.67" r="6.2"/>
<circle cx="1261.73" cy="1553.6" r="6.2"/>
<circle cx="1271.77" cy="1573.95" r="6.2"/>
<circle cx="1278.9" cy="1586.85" r="6.2"/>
<circle cx="1284.43" cy="1594.91" r="6.2"/>
<circle cx="1292.76" cy="1604.78" r="6.2"/>
<circle cx="1301.6" cy="1612.85" r="6.2"/>
<circle cx="1311.64" cy="1619.6" r="6.2"/>
<circle cx="1318.77" cy="1622.52" r="6.2"/>
<circle cx="1328.81" cy="1625.74" r="6.2"/>
<circle cx="1341.47" cy="1628.16" r="6.2"/>
<circle cx="1349.8" cy="1629.37" r="6.2"/>
<circle cx="1358.64" cy="1629.98" r="6.2"/>
</g>
</g>
<rect x="939.4" y="1329.7" width="439.2" height="303.5" fill="none" stroke="#000" stroke-width="1.3"/>
<path d="M939.4 1633.2h-4.6M939.4 1532.44h-4.6M939.4 1431.67h-4.6M939.4 1330.91h-4.6M1016.4 1633.2v4.6M1130.48 1633.2v4.6M1244.56 1633.2v4.6M1358.64 1633.2v4.6" stroke="#000" stroke-width="1.3" fill="none"/>
<g font-family='"Liberation Sans", sans-serif' fill="#000">
<text x="929.5" y="1642.35" font-size="26.2" text-anchor="end" textLength="38.76" lengthAdjust="spacingAndGlyphs">0.0</text>
<text x="929.5" y="1541.59" font-size="26.2" text-anchor="end" textLength="38.76" lengthAdjust="spacingAndGlyphs">0.5</text>
<text x="929.5" y="1440.82" font-size="26.2" text-anchor="end" textLength="38.76" lengthAdjust="spacingAndGlyphs">1.0</text>
<text x="929.5" y="1340.06" font-size="26.2" text-anchor="end" textLength="38.76" lengthAdjust="spacingAndGlyphs">1.5</text>
<text x="987.97" y="1662.4" font-size="26.2" text-anchor="start" textLength="31.81" lengthAdjust="spacingAndGlyphs">10</text>
<text x="1019.78" y="1652.4" font-size="17.82" text-anchor="start" textLength="25.06" lengthAdjust="spacingAndGlyphs">−4</text>
<text x="1102.04" y="1662.4" font-size="26.2" text-anchor="start" textLength="31.81" lengthAdjust="spacingAndGlyphs">10</text>
<text x="1133.86" y="1652.4" font-size="17.82" text-anchor="start" textLength="25.06" lengthAdjust="spacingAndGlyphs">−2</text>
<text x="1223.24" y="1662.4" font-size="26.2" text-anchor="start" textLength="31.81" lengthAdjust="spacingAndGlyphs">10</text>
<text x="1255.06" y="1652.4" font-size="17.82" text-anchor="start" textLength="10.82" lengthAdjust="spacingAndGlyphs">0</text>
<text x="1337.32" y="1662.4" font-size="26.2" text-anchor="start" textLength="31.81" lengthAdjust="spacingAndGlyphs">10</text>
<text x="1369.13" y="1652.4" font-size="17.82" text-anchor="start" textLength="10.82" lengthAdjust="spacingAndGlyphs">2</text>
</g>
<text transform="translate(877.7 1482) rotate(-90)" font-family='"Liberation Sans", sans-serif' font-size="26.2" text-anchor="middle" textLength="75" lengthAdjust="spacingAndGlyphs">tan(<tspan font-style="italic">δ</tspan>)</text>
<text x="1159" y="1693" font-family='"Liberation Sans", sans-serif' font-size="28.2" font-style="italic" text-anchor="middle">ω</text>
<g font-family='"Liberation Serif", serif' fill="#000">
<text x="241" y="1780" font-size="33" textLength="90.47" lengthAdjust="spacingAndGlyphs">Figure</text>
<text x="348.04" y="1780" font-size="33" textLength="52.94" lengthAdjust="spacingAndGlyphs">6.5:</text>
<text x="423.36" y="1780" font-size="33" textLength="53.87" lengthAdjust="spacingAndGlyphs">The</text>
<text x="493.8" y="1780" font-size="33" font-style="italic" textLength="24.97" lengthAdjust="spacingAndGlyphs">μ′</text>
<text x="535.35" y="1780" font-size="33" textLength="76.02" lengthAdjust="spacingAndGlyphs">(top),</text>
<text x="627.94" y="1780" font-size="33" font-style="italic" textLength="31.82" lengthAdjust="spacingAndGlyphs">μ″</text>
<text x="676.34" y="1780" font-size="33" textLength="119.31" lengthAdjust="spacingAndGlyphs">(middle)</text>
<text x="812.23" y="1780" font-size="33" textLength="50.03" lengthAdjust="spacingAndGlyphs">and</text>
<text x="878.83" y="1780" font-size="33" textLength="49.27" lengthAdjust="spacingAndGlyphs">tan </text>
<text x="928.1" y="1780" font-size="33" font-style="italic" textLength="16.11" lengthAdjust="spacingAndGlyphs">δ</text>
<text x="960.78" y="1780" font-size="33" textLength="121.26" lengthAdjust="spacingAndGlyphs">(bottom)</text>
<text x="1098.61" y="1780" font-size="33" textLength="28.86" lengthAdjust="spacingAndGlyphs">as</text>
<text x="1144.05" y="1780" font-size="33" textLength="128.96" lengthAdjust="spacingAndGlyphs">functions</text>
<text x="1289.58" y="1780" font-size="33" textLength="28.86" lengthAdjust="spacingAndGlyphs">of</text>
<text x="1335.02" y="1780" font-size="33" textLength="76.98" lengthAdjust="spacingAndGlyphs">strain</text>
</g>
<g font-family='"Liberation Serif", serif' fill="#000">
<text x="241" y="1819.5" font-size="33" textLength="138.57" lengthAdjust="spacingAndGlyphs">amplitude</text>
<text x="390.77" y="1819.5" font-size="33" font-style="italic" textLength="17.32" lengthAdjust="spacingAndGlyphs">u</text>
<text x="408.09" y="1824.5" font-size="23" textLength="12.08" lengthAdjust="spacingAndGlyphs">0</text>
<text x="431.37" y="1819.5" font-size="33" textLength="25.01" lengthAdjust="spacingAndGlyphs">at</text>
<text x="467.58" y="1819.5" font-size="33" font-style="italic" textLength="24.47" lengthAdjust="spacingAndGlyphs">ω</text>
<text x="503.25" y="1819.5" font-size="33" textLength="19.8" lengthAdjust="spacingAndGlyphs">=</text>
<text x="534.25" y="1819.5" font-size="33" textLength="77.96" lengthAdjust="spacingAndGlyphs">0.001</text>
<text x="623.41" y="1819.5" font-size="33" textLength="69.25" lengthAdjust="spacingAndGlyphs">(left)</text>
<text x="703.87" y="1819.5" font-size="33" textLength="28.86" lengthAdjust="spacingAndGlyphs">or</text>
<text x="743.93" y="1819.5" font-size="33" textLength="28.86" lengthAdjust="spacingAndGlyphs">as</text>
<text x="784" y="1819.5" font-size="33" textLength="128.96" lengthAdjust="spacingAndGlyphs">functions</text>
<text x="924.16" y="1819.5" font-size="33" textLength="28.86" lengthAdjust="spacingAndGlyphs">of</text>
<text x="964.23" y="1819.5" font-size="33" textLength="138.52" lengthAdjust="spacingAndGlyphs">frequency</text>
<text x="1113.94" y="1819.5" font-size="33" font-style="italic" textLength="24.47" lengthAdjust="spacingAndGlyphs">ω</text>
<text x="1149.61" y="1819.5" font-size="33" textLength="25.01" lengthAdjust="spacingAndGlyphs">at</text>
<text x="1185.82" y="1819.5" font-size="33" font-style="italic" textLength="17.32" lengthAdjust="spacingAndGlyphs">u</text>
<text x="1203.14" y="1824.5" font-size="23" textLength="12.08" lengthAdjust="spacingAndGlyphs">0</text>
<text x="1226.42" y="1819.5" font-size="33" textLength="19.8" lengthAdjust="spacingAndGlyphs">=</text>
<text x="1257.43" y="1819.5" font-size="33" textLength="46.19" lengthAdjust="spacingAndGlyphs">1%</text>
<text x="1314.82" y="1819.5" font-size="33" textLength="97.18" lengthAdjust="spacingAndGlyphs">(right).</text>
</g>
<g font-family='"Liberation Serif", serif' fill="#000">
<text x="241" y="1860" font-size="33" textLength="53.87" lengthAdjust="spacingAndGlyphs">The</text>
<text x="309.09" y="1860" font-size="33" textLength="96.25" lengthAdjust="spacingAndGlyphs">system</text>
<text x="419.56" y="1860" font-size="33" textLength="167.43" lengthAdjust="spacingAndGlyphs">corresponds</text>
<text x="601.21" y="1860" font-size="33" textLength="26.95" lengthAdjust="spacingAndGlyphs">to</text>
<text x="642.38" y="1860" font-size="33" textLength="43.31" lengthAdjust="spacingAndGlyphs">Nr.</text>
<text x="704.89" y="1860" font-size="33" textLength="17.32" lengthAdjust="spacingAndGlyphs">6</text>
<text x="736.44" y="1860" font-size="33" textLength="26.95" lengthAdjust="spacingAndGlyphs">in</text>
<text x="777.61" y="1860" font-size="33" textLength="54.89" lengthAdjust="spacingAndGlyphs">Fig.</text>
<text x="851.69" y="1860" font-size="33" textLength="43.31" lengthAdjust="spacingAndGlyphs">6.1</text>
<text x="909.22" y="1860" font-size="33" textLength="11.54" lengthAdjust="spacingAndGlyphs">(</text>
<text x="920.76" y="1860" font-size="33" font-style="italic" textLength="13.65" lengthAdjust="spacingAndGlyphs">γ</text>
<text x="937.42" y="1847" font-size="23" font-style="italic" textLength="12.08" lengthAdjust="spacingAndGlyphs">d</text>
<text x="935.42" y="1867" font-size="23" font-style="italic" textLength="6.71" lengthAdjust="spacingAndGlyphs">f</text>
<text x="958.58" y="1860" font-size="33" textLength="19.8" lengthAdjust="spacingAndGlyphs">=</text>
<text x="990.47" y="1860" font-size="33" textLength="34.65" lengthAdjust="spacingAndGlyphs">20</text>
<text x="1039.34" y="1860" font-size="33" textLength="77.01" lengthAdjust="spacingAndGlyphs">mJ/m</text>
<text x="1116.35" y="1847" font-size="23" textLength="12.08" lengthAdjust="spacingAndGlyphs">2</text>
<text x="1128.43" y="1860" font-size="33" textLength="8.66" lengthAdjust="spacingAndGlyphs">,</text>
<text x="1144.91" y="1860" font-size="33" font-style="italic" textLength="13.65" lengthAdjust="spacingAndGlyphs">γ</text>
<text x="1161.56" y="1847" font-size="23" font-style="italic" textLength="12.08" lengthAdjust="spacingAndGlyphs">d</text>
<text x="1159.56" y="1867" font-size="23" font-style="italic" textLength="6.71" lengthAdjust="spacingAndGlyphs">f</text>
<text x="1182.73" y="1860" font-size="33" textLength="19.8" lengthAdjust="spacingAndGlyphs">=</text>
<text x="1214.61" y="1860" font-size="33" textLength="17.32" lengthAdjust="spacingAndGlyphs">5</text>
<text x="1246.16" y="1860" font-size="33" textLength="77.01" lengthAdjust="spacingAndGlyphs">mJ/m</text>
<text x="1323.17" y="1847" font-size="23" textLength="12.08" lengthAdjust="spacingAndGlyphs">2</text>
<text x="1335.25" y="1860" font-size="33" textLength="20.2" lengthAdjust="spacingAndGlyphs">),</text>
<text x="1369.67" y="1860" font-size="33" textLength="42.33" lengthAdjust="spacingAndGlyphs">the</text>
</g>
<g font-family='"Liberation Serif", serif' fill="#000">
<text x="241" y="1900.5" font-size="33" textLength="67.34" lengthAdjust="spacingAndGlyphs">filler</text>
<text x="318.42" y="1900.5" font-size="33" textLength="101.99" lengthAdjust="spacingAndGlyphs">content</text>
<text x="430.49" y="1900.5" font-size="33" textLength="23.11" lengthAdjust="spacingAndGlyphs">is</text>
<text x="463.69" y="1900.5" font-size="33" textLength="86.57" lengthAdjust="spacingAndGlyphs">varied</text>
<text x="560.35" y="1900.5" font-size="33" textLength="50.03" lengthAdjust="spacingAndGlyphs">and</text>
<text x="620.46" y="1900.5" font-size="33" textLength="76.98" lengthAdjust="spacingAndGlyphs">given</text>
<text x="707.53" y="1900.5" font-size="33" textLength="26.95" lengthAdjust="spacingAndGlyphs">in</text>
<text x="744.56" y="1900.5" font-size="33" textLength="42.33" lengthAdjust="spacingAndGlyphs">the</text>
<text x="796.98" y="1900.5" font-size="33" textLength="101.02" lengthAdjust="spacingAndGlyphs">legend.</text>
</g>
</svg></body></html>
